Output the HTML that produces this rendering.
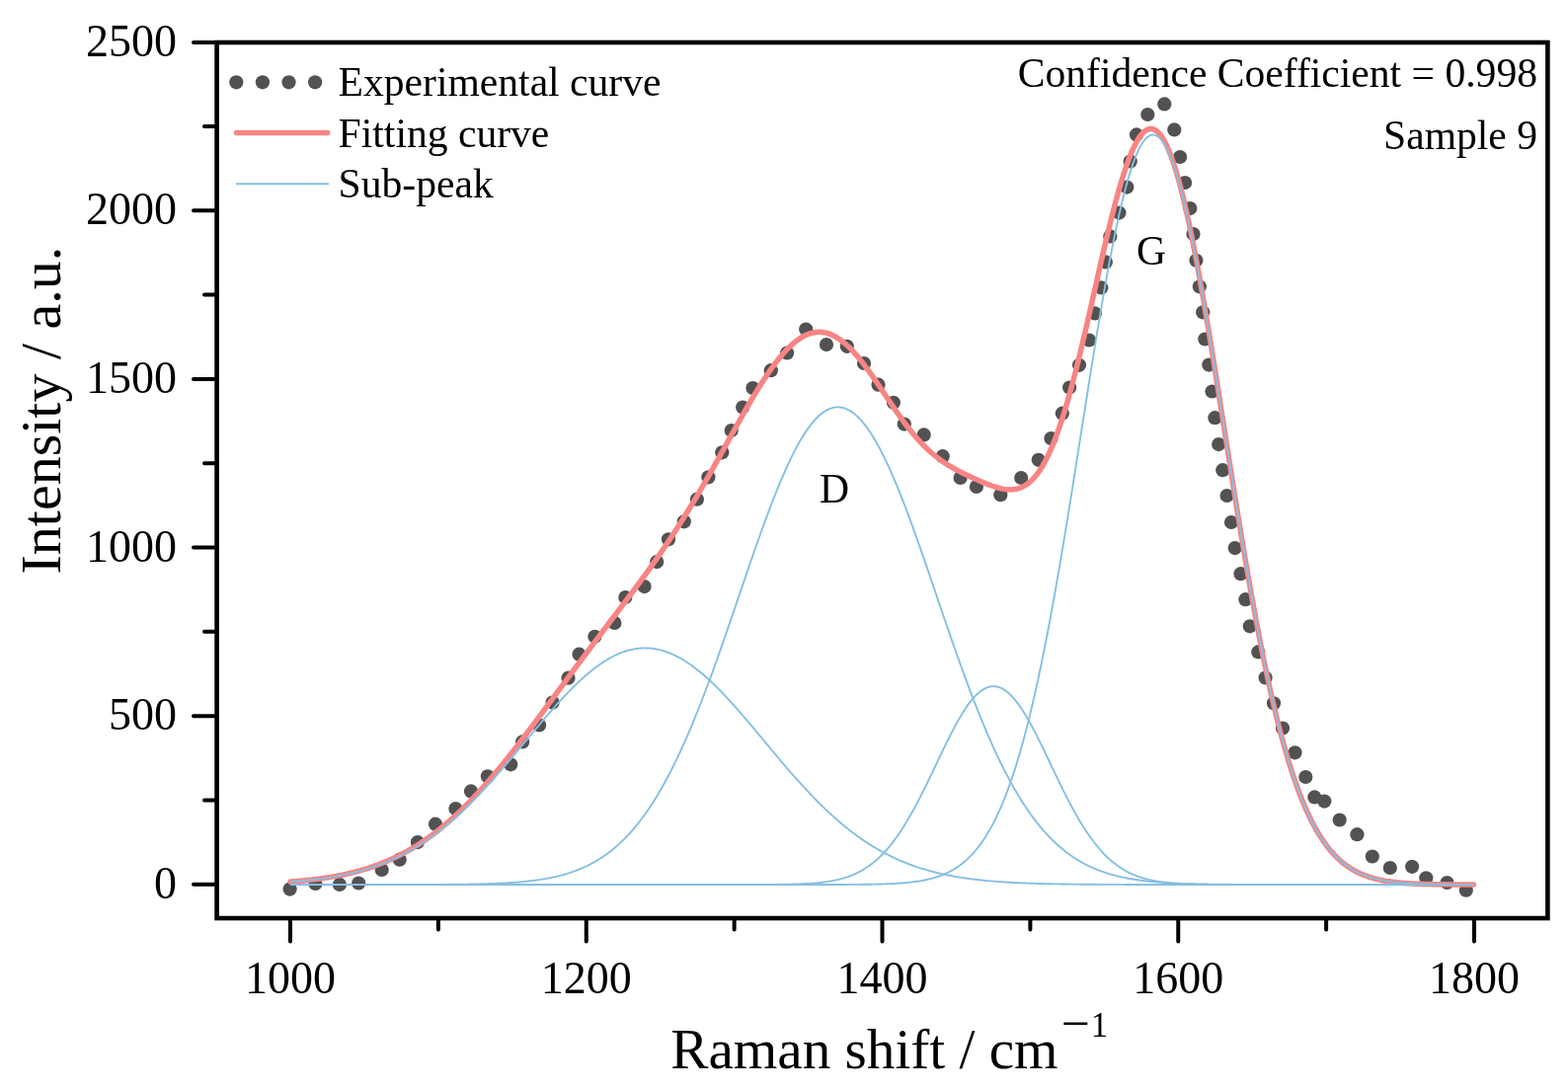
<!DOCTYPE html>
<html><head><meta charset="utf-8"><title>Raman spectrum fit</title>
<style>html,body{margin:0;padding:0;background:#fff;}svg{display:block;}</style>
</head><body>
<svg width="1588" height="1104" viewBox="0 0 1588 1104"><rect width="1588" height="1104" fill="#fff"/><g fill="#525252"><circle cx="293.6" cy="900.6" r="7.1"/><circle cx="319.4" cy="895.0" r="7.1"/><circle cx="343.9" cy="895.9" r="7.1"/><circle cx="363.2" cy="894.5" r="7.1"/><circle cx="386.7" cy="880.9" r="7.1"/><circle cx="404.7" cy="870.7" r="7.1"/><circle cx="422.9" cy="853.1" r="7.1"/><circle cx="441" cy="834.7" r="7.1"/><circle cx="461.4" cy="819.1" r="7.1"/><circle cx="477" cy="801.4" r="7.1"/><circle cx="493.9" cy="786.3" r="7.1"/><circle cx="517.2" cy="774.3" r="7.1"/><circle cx="529.1" cy="751.4" r="7.1"/><circle cx="546.1" cy="734.5" r="7.1"/><circle cx="559.6" cy="711.6" r="7.1"/><circle cx="575.5" cy="686.7" r="7.1"/><circle cx="586.5" cy="662.7" r="7.1"/><circle cx="602.4" cy="644.8" r="7.1"/><circle cx="622.4" cy="630.9" r="7.1"/><circle cx="633.3" cy="605" r="7.1"/><circle cx="652.6" cy="594.1" r="7.1"/><circle cx="665.2" cy="569.1" r="7.1"/><circle cx="677" cy="546.3" r="7.1"/><circle cx="692.8" cy="528.3" r="7.1"/><circle cx="705.9" cy="505.7" r="7.1"/><circle cx="717.4" cy="483.3" r="7.1"/><circle cx="731.3" cy="458.3" r="7.1"/><circle cx="740.7" cy="436.1" r="7.1"/><circle cx="752.2" cy="412.6" r="7.1"/><circle cx="762.4" cy="393" r="7.1"/><circle cx="780.8" cy="375.2" r="7.1"/><circle cx="797.1" cy="357.5" r="7.1"/><circle cx="816.2" cy="333.6" r="7.1"/><circle cx="837" cy="349" r="7.1"/><circle cx="857.8" cy="350.8" r="7.1"/><circle cx="875" cy="368" r="7.1"/><circle cx="889.5" cy="389.7" r="7.1"/><circle cx="904.9" cy="407.8" r="7.1"/><circle cx="915.8" cy="429.6" r="7.1"/><circle cx="935.7" cy="440.4" r="7.1"/><circle cx="954.7" cy="462.2" r="7.1"/><circle cx="972.6" cy="484" r="7.1"/><circle cx="988.9" cy="493" r="7.1"/><circle cx="1013.3" cy="501.2" r="7.1"/><circle cx="1034.2" cy="484" r="7.1"/><circle cx="1051.7" cy="465.8" r="7.1"/><circle cx="1064.4" cy="444.1" r="7.1"/><circle cx="1075.8" cy="418.7" r="7.1"/><circle cx="1083.1" cy="392.5" r="7.1"/><circle cx="1093" cy="369.8" r="7.1"/><circle cx="1103" cy="344.5" r="7.1"/><circle cx="1108.9" cy="317.4" r="7.1"/><circle cx="1115.3" cy="291.4" r="7.1"/><circle cx="1119.8" cy="265.4" r="7.1"/><circle cx="1124.3" cy="239.4" r="7.1"/><circle cx="1133.4" cy="215.6" r="7.1"/><circle cx="1141.3" cy="189.6" r="7.1"/><circle cx="1144.7" cy="163.5" r="7.1"/><circle cx="1151" cy="136.4" r="7.1"/><circle cx="1162.3" cy="116" r="7.1"/><circle cx="1179.3" cy="105.4" r="7.1"/><circle cx="1189.3" cy="131.4" r="7.1"/><circle cx="1195.1" cy="159" r="7.1"/><circle cx="1200.1" cy="185" r="7.1"/><circle cx="1205.3" cy="211.1" r="7.1"/><circle cx="1208.5" cy="237.1" r="7.1"/><circle cx="1211.4" cy="263.8" r="7.1"/><circle cx="1214.8" cy="290.3" r="7.1"/><circle cx="1218.2" cy="316.3" r="7.1"/><circle cx="1220.3" cy="343.5" r="7.1"/><circle cx="1224.3" cy="369.6" r="7.1"/><circle cx="1227.5" cy="396.5" r="7.1"/><circle cx="1230.4" cy="423.2" r="7.1"/><circle cx="1234.2" cy="450.1" r="7.1"/><circle cx="1238.3" cy="476.2" r="7.1"/><circle cx="1242.6" cy="502" r="7.1"/><circle cx="1247" cy="529" r="7.1"/><circle cx="1250.7" cy="555.1" r="7.1"/><circle cx="1256.5" cy="581.2" r="7.1"/><circle cx="1261.4" cy="607.2" r="7.1"/><circle cx="1265.8" cy="634.3" r="7.1"/><circle cx="1274.3" cy="660.4" r="7.1"/><circle cx="1281.6" cy="686.5" r="7.1"/><circle cx="1290" cy="712.3" r="7.1"/><circle cx="1299" cy="737.6" r="7.1"/><circle cx="1311.5" cy="762.3" r="7.1"/><circle cx="1322.3" cy="787" r="7.1"/><circle cx="1331.3" cy="807.4" r="7.1"/><circle cx="1341.3" cy="811.6" r="7.1"/><circle cx="1356.7" cy="830.5" r="7.1"/><circle cx="1374.4" cy="845.2" r="7.1"/><circle cx="1389.8" cy="867.5" r="7.1"/><circle cx="1407.8" cy="879" r="7.1"/><circle cx="1430.1" cy="877.8" r="7.1"/><circle cx="1444.3" cy="889.3" r="7.1"/><circle cx="1465.5" cy="894" r="7.1"/><circle cx="1484.8" cy="901.7" r="7.1"/></g><path d="M294.0,893.04 L295.5,892.93 L297.0,892.81 L298.5,892.69 L300.0,892.57 L301.5,892.44 L303.0,892.31 L304.5,892.18 L306.0,892.04 L307.5,891.90 L309.0,891.75 L310.5,891.59 L312.0,891.44 L313.5,891.27 L315.0,891.11 L316.5,890.93 L318.0,890.75 L319.5,890.57 L321.0,890.38 L322.5,890.19 L324.0,889.99 L325.5,889.78 L327.0,889.57 L328.5,889.35 L330.0,889.12 L331.5,888.89 L333.0,888.65 L334.5,888.40 L336.0,888.15 L337.5,887.89 L339.0,887.62 L340.5,887.35 L342.0,887.07 L343.5,886.78 L345.0,886.48 L346.5,886.17 L348.0,885.86 L349.5,885.54 L351.0,885.21 L352.5,884.87 L354.0,884.52 L355.5,884.16 L357.0,883.79 L358.5,883.41 L360.0,883.03 L361.5,882.63 L363.0,882.22 L364.5,881.81 L366.0,881.38 L367.5,880.94 L369.0,880.50 L370.5,880.04 L372.0,879.57 L373.5,879.09 L375.0,878.59 L376.5,878.09 L378.0,877.58 L379.5,877.05 L381.0,876.51 L382.5,875.96 L384.0,875.39 L385.5,874.81 L387.0,874.23 L388.5,873.62 L390.0,873.01 L391.5,872.38 L393.0,871.73 L394.5,871.08 L396.0,870.41 L397.5,869.72 L399.0,869.03 L400.5,868.31 L402.0,867.59 L403.5,866.85 L405.0,866.09 L406.5,865.32 L408.0,864.53 L409.5,863.73 L411.0,862.92 L412.5,862.08 L414.0,861.24 L415.5,860.37 L417.0,859.50 L418.5,858.60 L420.0,857.69 L421.5,856.76 L423.0,855.82 L424.5,854.86 L426.0,853.88 L427.5,852.89 L429.0,851.88 L430.5,850.86 L432.0,849.81 L433.5,848.75 L435.0,847.68 L436.5,846.58 L438.0,845.47 L439.5,844.35 L441.0,843.20 L442.5,842.04 L444.0,840.86 L445.5,839.67 L447.0,838.45 L448.5,837.22 L450.0,835.97 L451.5,834.71 L453.0,833.43 L454.5,832.13 L456.0,830.81 L457.5,829.48 L459.0,828.13 L460.5,826.76 L462.0,825.38 L463.5,823.98 L465.0,822.56 L466.5,821.12 L468.0,819.67 L469.5,818.20 L471.0,816.72 L472.5,815.22 L474.0,813.70 L475.5,812.17 L477.0,810.62 L478.5,809.06 L480.0,807.48 L481.5,805.88 L483.0,804.27 L484.5,802.65 L486.0,801.01 L487.5,799.35 L489.0,797.68 L490.5,796.00 L492.0,794.30 L493.5,792.59 L495.0,790.86 L496.5,789.13 L498.0,787.37 L499.5,785.61 L501.0,783.83 L502.5,782.04 L504.0,780.24 L505.5,778.43 L507.0,776.60 L508.5,774.76 L510.0,772.92 L511.5,771.06 L513.0,769.19 L514.5,767.31 L516.0,765.42 L517.5,763.52 L519.0,761.62 L520.5,759.70 L522.0,757.78 L523.5,755.84 L525.0,753.90 L526.5,751.95 L528.0,750.00 L529.5,748.04 L531.0,746.07 L532.5,744.09 L534.0,742.11 L535.5,740.12 L537.0,738.13 L538.5,736.13 L540.0,734.13 L541.5,732.13 L543.0,730.12 L544.5,728.10 L546.0,726.08 L547.5,724.06 L549.0,722.04 L550.5,720.02 L552.0,717.99 L553.5,715.96 L555.0,713.93 L556.5,711.89 L558.0,709.86 L559.5,707.83 L561.0,705.79 L562.5,703.76 L564.0,701.72 L565.5,699.69 L567.0,697.65 L568.5,695.62 L570.0,693.58 L571.5,691.55 L573.0,689.52 L574.5,687.49 L576.0,685.46 L577.5,683.44 L579.0,681.41 L580.5,679.39 L582.0,677.37 L583.5,675.35 L585.0,673.33 L586.5,671.32 L588.0,669.31 L589.5,667.30 L591.0,665.29 L592.5,663.28 L594.0,661.28 L595.5,659.28 L597.0,657.28 L598.5,655.29 L600.0,653.29 L601.5,651.30 L603.0,649.31 L604.5,647.32 L606.0,645.34 L607.5,643.36 L609.0,641.37 L610.5,639.39 L612.0,637.41 L613.5,635.43 L615.0,633.46 L616.5,631.48 L618.0,629.50 L619.5,627.52 L621.0,625.55 L622.5,623.57 L624.0,621.59 L625.5,619.61 L627.0,617.63 L628.5,615.65 L630.0,613.67 L631.5,611.68 L633.0,609.69 L634.5,607.70 L636.0,605.70 L637.5,603.70 L639.0,601.70 L640.5,599.69 L642.0,597.68 L643.5,595.66 L645.0,593.64 L646.5,591.61 L648.0,589.57 L649.5,587.52 L651.0,585.47 L652.5,583.41 L654.0,581.35 L655.5,579.27 L657.0,577.19 L658.5,575.09 L660.0,572.99 L661.5,570.87 L663.0,568.75 L664.5,566.61 L666.0,564.47 L667.5,562.31 L669.0,560.14 L670.5,557.95 L672.0,555.76 L673.5,553.55 L675.0,551.33 L676.5,549.09 L678.0,546.84 L679.5,544.58 L681.0,542.30 L682.5,540.00 L684.0,537.70 L685.5,535.38 L687.0,533.04 L688.5,530.69 L690.0,528.32 L691.5,525.93 L693.0,523.54 L694.5,521.12 L696.0,518.69 L697.5,516.25 L699.0,513.79 L700.5,511.32 L702.0,508.83 L703.5,506.32 L705.0,503.81 L706.5,501.27 L708.0,498.73 L709.5,496.17 L711.0,493.60 L712.5,491.01 L714.0,488.41 L715.5,485.80 L717.0,483.18 L718.5,480.55 L720.0,477.90 L721.5,475.25 L723.0,472.59 L724.5,469.92 L726.0,467.24 L727.5,464.56 L729.0,461.87 L730.5,459.17 L732.0,456.47 L733.5,453.77 L735.0,451.07 L736.5,448.36 L738.0,445.65 L739.5,442.95 L741.0,440.24 L742.5,437.54 L744.0,434.85 L745.5,432.16 L747.0,429.47 L748.5,426.80 L750.0,424.13 L751.5,421.48 L753.0,418.83 L754.5,416.21 L756.0,413.59 L757.5,410.99 L759.0,408.42 L760.5,405.86 L762.0,403.32 L763.5,400.80 L765.0,398.31 L766.5,395.84 L768.0,393.41 L769.5,391.00 L771.0,388.62 L772.5,386.27 L774.0,383.96 L775.5,381.68 L777.0,379.45 L778.5,377.25 L780.0,375.09 L781.5,372.97 L783.0,370.90 L784.5,368.87 L786.0,366.89 L787.5,364.96 L789.0,363.08 L790.5,361.25 L792.0,359.47 L793.5,357.75 L795.0,356.09 L796.5,354.48 L798.0,352.93 L799.5,351.45 L801.0,350.03 L802.5,348.67 L804.0,347.37 L805.5,346.14 L807.0,344.98 L808.5,343.89 L810.0,342.87 L811.5,341.92 L813.0,341.04 L814.5,340.23 L816.0,339.50 L817.5,338.84 L819.0,338.25 L820.5,337.74 L822.0,337.31 L823.5,336.96 L825.0,336.68 L826.5,336.48 L828.0,336.35 L829.5,336.31 L831.0,336.34 L832.5,336.46 L834.0,336.65 L835.5,336.91 L837.0,337.26 L838.5,337.68 L840.0,338.19 L841.5,338.76 L843.0,339.42 L844.5,340.15 L846.0,340.95 L847.5,341.83 L849.0,342.77 L850.5,343.79 L852.0,344.88 L853.5,346.04 L855.0,347.27 L856.5,348.56 L858.0,349.92 L859.5,351.34 L861.0,352.82 L862.5,354.36 L864.0,355.96 L865.5,357.61 L867.0,359.32 L868.5,361.08 L870.0,362.88 L871.5,364.73 L873.0,366.63 L874.5,368.56 L876.0,370.54 L877.5,372.55 L879.0,374.60 L880.5,376.68 L882.0,378.78 L883.5,380.91 L885.0,383.07 L886.5,385.24 L888.0,387.43 L889.5,389.64 L891.0,391.86 L892.5,394.08 L894.0,396.32 L895.5,398.55 L897.0,400.79 L898.5,403.03 L900.0,405.26 L901.5,407.48 L903.0,409.69 L904.5,411.89 L906.0,414.08 L907.5,416.25 L909.0,418.39 L910.5,420.52 L912.0,422.62 L913.5,424.70 L915.0,426.75 L916.5,428.77 L918.0,430.76 L919.5,432.71 L921.0,434.63 L922.5,436.52 L924.0,438.37 L925.5,440.17 L927.0,441.95 L928.5,443.68 L930.0,445.37 L931.5,447.02 L933.0,448.63 L934.5,450.19 L936.0,451.72 L937.5,453.20 L939.0,454.64 L940.5,456.05 L942.0,457.41 L943.5,458.73 L945.0,460.01 L946.5,461.25 L948.0,462.46 L949.5,463.63 L951.0,464.76 L952.5,465.86 L954.0,466.92 L955.5,467.96 L957.0,468.96 L958.5,469.94 L960.0,470.88 L961.5,471.81 L963.0,472.70 L964.5,473.58 L966.0,474.43 L967.5,475.26 L969.0,476.08 L970.5,476.88 L972.0,477.66 L973.5,478.43 L975.0,479.18 L976.5,479.92 L978.0,480.65 L979.5,481.38 L981.0,482.09 L982.5,482.79 L984.0,483.49 L985.5,484.17 L987.0,484.85 L988.5,485.53 L990.0,486.19 L991.5,486.85 L993.0,487.50 L994.5,488.13 L996.0,488.76 L997.5,489.38 L999.0,489.98 L1000.5,490.57 L1002.0,491.14 L1003.5,491.70 L1005.0,492.23 L1006.5,492.74 L1008.0,493.22 L1009.5,493.68 L1011.0,494.10 L1012.5,494.49 L1014.0,494.83 L1015.5,495.14 L1017.0,495.40 L1018.5,495.61 L1020.0,495.77 L1021.5,495.87 L1023.0,495.90 L1024.5,495.87 L1026.0,495.77 L1027.5,495.59 L1029.0,495.33 L1030.5,494.98 L1032.0,494.55 L1033.5,494.01 L1035.0,493.38 L1036.5,492.65 L1038.0,491.80 L1039.5,490.84 L1041.0,489.76 L1042.5,488.56 L1044.0,487.24 L1045.5,485.78 L1047.0,484.19 L1048.5,482.46 L1050.0,480.58 L1051.5,478.56 L1053.0,476.39 L1054.5,474.07 L1056.0,471.60 L1057.5,468.97 L1059.0,466.18 L1060.5,463.24 L1062.0,460.13 L1063.5,456.86 L1065.0,453.42 L1066.5,449.83 L1068.0,446.07 L1069.5,442.14 L1071.0,438.06 L1072.5,433.82 L1074.0,429.42 L1075.5,424.86 L1077.0,420.15 L1078.5,415.29 L1080.0,410.28 L1081.5,405.12 L1083.0,399.83 L1084.5,394.41 L1086.0,388.85 L1087.5,383.17 L1089.0,377.37 L1090.5,371.46 L1092.0,365.44 L1093.5,359.32 L1095.0,353.12 L1096.5,346.83 L1098.0,340.46 L1099.5,334.02 L1101.0,327.53 L1102.5,320.99 L1104.0,314.40 L1105.5,307.78 L1107.0,301.15 L1108.5,294.49 L1110.0,287.84 L1111.5,281.19 L1113.0,274.57 L1114.5,267.97 L1116.0,261.41 L1117.5,254.89 L1119.0,248.44 L1120.5,242.06 L1122.0,235.76 L1123.5,229.55 L1125.0,223.45 L1126.5,217.46 L1128.0,211.59 L1129.5,205.85 L1131.0,200.26 L1132.5,194.82 L1134.0,189.54 L1135.5,184.43 L1137.0,179.51 L1138.5,174.78 L1140.0,170.24 L1141.5,165.92 L1143.0,161.81 L1144.5,157.92 L1146.0,154.26 L1147.5,150.84 L1149.0,147.67 L1150.5,144.74 L1152.0,142.08 L1153.5,139.67 L1155.0,137.54 L1156.5,135.67 L1158.0,134.08 L1159.5,132.78 L1161.0,131.76 L1162.5,131.02 L1164.0,130.58 L1165.5,130.43 L1167.0,130.58 L1168.5,131.02 L1170.0,131.76 L1171.5,132.80 L1173.0,134.14 L1174.5,135.78 L1176.0,137.71 L1177.5,139.95 L1179.0,142.48 L1180.5,145.31 L1182.0,148.43 L1183.5,151.84 L1185.0,155.53 L1186.5,159.52 L1188.0,163.78 L1189.5,168.32 L1191.0,173.13 L1192.5,178.21 L1194.0,183.55 L1195.5,189.15 L1197.0,194.99 L1198.5,201.08 L1200.0,207.41 L1201.5,213.97 L1203.0,220.76 L1204.5,227.76 L1206.0,234.97 L1207.5,242.37 L1209.0,249.97 L1210.5,257.76 L1212.0,265.72 L1213.5,273.85 L1215.0,282.13 L1216.5,290.56 L1218.0,299.14 L1219.5,307.84 L1221.0,316.67 L1222.5,325.60 L1224.0,334.64 L1225.5,343.78 L1227.0,353.00 L1228.5,362.29 L1230.0,371.65 L1231.5,381.07 L1233.0,390.53 L1234.5,400.03 L1236.0,409.57 L1237.5,419.12 L1239.0,428.69 L1240.5,438.27 L1242.0,447.84 L1243.5,457.39 L1245.0,466.93 L1246.5,476.44 L1248.0,485.92 L1249.5,495.36 L1251.0,504.74 L1252.5,514.07 L1254.0,523.34 L1255.5,532.54 L1257.0,541.66 L1258.5,550.71 L1260.0,559.67 L1261.5,568.53 L1263.0,577.30 L1264.5,585.97 L1266.0,594.53 L1267.5,602.98 L1269.0,611.32 L1270.5,619.54 L1272.0,627.63 L1273.5,635.60 L1275.0,643.45 L1276.5,651.16 L1278.0,658.74 L1279.5,666.18 L1281.0,673.49 L1282.5,680.65 L1284.0,687.68 L1285.5,694.56 L1287.0,701.30 L1288.5,707.89 L1290.0,714.34 L1291.5,720.65 L1293.0,726.80 L1294.5,732.81 L1296.0,738.68 L1297.5,744.40 L1299.0,749.97 L1300.5,755.40 L1302.0,760.69 L1303.5,765.84 L1305.0,770.84 L1306.5,775.70 L1308.0,780.42 L1309.5,785.01 L1311.0,789.46 L1312.5,793.77 L1314.0,797.95 L1315.5,802.00 L1317.0,805.93 L1318.5,809.72 L1320.0,813.39 L1321.5,816.94 L1323.0,820.37 L1324.5,823.69 L1326.0,826.88 L1327.5,829.97 L1329.0,832.94 L1330.5,835.81 L1332.0,838.56 L1333.5,841.22 L1335.0,843.78 L1336.5,846.24 L1338.0,848.60 L1339.5,850.87 L1341.0,853.05 L1342.5,855.14 L1344.0,857.15 L1345.5,859.08 L1347.0,860.92 L1348.5,862.69 L1350.0,864.38 L1351.5,866.00 L1353.0,867.54 L1354.5,869.02 L1356.0,870.44 L1357.5,871.79 L1359.0,873.07 L1360.5,874.30 L1362.0,875.48 L1363.5,876.59 L1365.0,877.66 L1366.5,878.67 L1368.0,879.64 L1369.5,880.55 L1371.0,881.42 L1372.5,882.25 L1374.0,883.04 L1375.5,883.79 L1377.0,884.50 L1378.5,885.17 L1380.0,885.81 L1381.5,886.41 L1383.0,886.99 L1384.5,887.53 L1386.0,888.04 L1387.5,888.53 L1389.0,888.98 L1390.5,889.42 L1392.0,889.83 L1393.5,890.21 L1395.0,890.58 L1396.5,890.92 L1398.0,891.24 L1399.5,891.55 L1401.0,891.84 L1402.5,892.11 L1404.0,892.36 L1405.5,892.60 L1407.0,892.83 L1408.5,893.04 L1410.0,893.24 L1411.5,893.42 L1413.0,893.60 L1414.5,893.76 L1416.0,893.91 L1417.5,894.06 L1419.0,894.19 L1420.5,894.32 L1422.0,894.44 L1423.5,894.55 L1425.0,894.65 L1426.5,894.75 L1428.0,894.84 L1429.5,894.92 L1431.0,895.00 L1432.5,895.07 L1434.0,895.14 L1435.5,895.20 L1437.0,895.26 L1438.5,895.32 L1440.0,895.37 L1441.5,895.42 L1443.0,895.46 L1444.5,895.50 L1446.0,895.54 L1447.5,895.58 L1449.0,895.61 L1450.5,895.64 L1452.0,895.67 L1453.5,895.69 L1455.0,895.72 L1456.5,895.74 L1458.0,895.76 L1459.5,895.78 L1461.0,895.80 L1462.5,895.81 L1464.0,895.83 L1465.5,895.84 L1467.0,895.86 L1468.5,895.87 L1470.0,895.88 L1471.5,895.89 L1473.0,895.90 L1474.5,895.91 L1476.0,895.91 L1477.5,895.92 L1479.0,895.93 L1480.5,895.93 L1482.0,895.94 L1483.5,895.95 L1485.0,895.95 L1486.5,895.95 L1488.0,895.96 L1489.5,895.96 L1491.0,895.97 L1492.5,895.97" fill="none" stroke="#F88484" stroke-width="5.5" stroke-linejoin="round" stroke-linecap="round"/><path d="M294.0,893.10 L295.5,892.99 L297.0,892.88 L298.5,892.76 L300.0,892.64 L301.5,892.52 L303.0,892.39 L304.5,892.26 L306.0,892.12 L307.5,891.98 L309.0,891.84 L310.5,891.69 L312.0,891.53 L313.5,891.37 L315.0,891.21 L316.5,891.04 L318.0,890.87 L319.5,890.69 L321.0,890.50 L322.5,890.31 L324.0,890.12 L325.5,889.92 L327.0,889.71 L328.5,889.50 L330.0,889.28 L331.5,889.05 L333.0,888.82 L334.5,888.58 L336.0,888.33 L337.5,888.08 L339.0,887.82 L340.5,887.55 L342.0,887.28 L343.5,886.99 L345.0,886.70 L346.5,886.40 L348.0,886.10 L349.5,885.78 L351.0,885.46 L352.5,885.13 L354.0,884.79 L355.5,884.44 L357.0,884.08 L358.5,883.72 L360.0,883.34 L361.5,882.96 L363.0,882.56 L364.5,882.16 L366.0,881.74 L367.5,881.32 L369.0,880.88 L370.5,880.43 L372.0,879.98 L373.5,879.51 L375.0,879.03 L376.5,878.54 L378.0,878.04 L379.5,877.52 L381.0,877.00 L382.5,876.46 L384.0,875.91 L385.5,875.35 L387.0,874.78 L388.5,874.19 L390.0,873.59 L391.5,872.98 L393.0,872.36 L394.5,871.72 L396.0,871.07 L397.5,870.40 L399.0,869.73 L400.5,869.03 L402.0,868.33 L403.5,867.61 L405.0,866.87 L406.5,866.12 L408.0,865.36 L409.5,864.58 L411.0,863.79 L412.5,862.98 L414.0,862.16 L415.5,861.32 L417.0,860.46 L418.5,859.60 L420.0,858.71 L421.5,857.81 L423.0,856.89 L424.5,855.96 L426.0,855.02 L427.5,854.05 L429.0,853.07 L430.5,852.08 L432.0,851.06 L433.5,850.04 L435.0,848.99 L436.5,847.93 L438.0,846.85 L439.5,845.76 L441.0,844.65 L442.5,843.52 L444.0,842.38 L445.5,841.22 L447.0,840.05 L448.5,838.85 L450.0,837.64 L451.5,836.42 L453.0,835.18 L454.5,833.92 L456.0,832.65 L457.5,831.36 L459.0,830.05 L460.5,828.73 L462.0,827.39 L463.5,826.04 L465.0,824.67 L466.5,823.28 L468.0,821.88 L469.5,820.46 L471.0,819.03 L472.5,817.58 L474.0,816.12 L475.5,814.65 L477.0,813.16 L478.5,811.65 L480.0,810.13 L481.5,808.60 L483.0,807.05 L484.5,805.49 L486.0,803.92 L487.5,802.33 L489.0,800.73 L490.5,799.12 L492.0,797.50 L493.5,795.86 L495.0,794.22 L496.5,792.56 L498.0,790.89 L499.5,789.21 L501.0,787.52 L502.5,785.82 L504.0,784.11 L505.5,782.39 L507.0,780.67 L508.5,778.93 L510.0,777.19 L511.5,775.44 L513.0,773.69 L514.5,771.92 L516.0,770.15 L517.5,768.38 L519.0,766.60 L520.5,764.82 L522.0,763.03 L523.5,761.23 L525.0,759.44 L526.5,757.64 L528.0,755.84 L529.5,754.04 L531.0,752.24 L532.5,750.43 L534.0,748.63 L535.5,746.83 L537.0,745.03 L538.5,743.23 L540.0,741.43 L541.5,739.64 L543.0,737.85 L544.5,736.06 L546.0,734.28 L547.5,732.50 L549.0,730.73 L550.5,728.97 L552.0,727.21 L553.5,725.46 L555.0,723.72 L556.5,721.99 L558.0,720.27 L559.5,718.56 L561.0,716.86 L562.5,715.17 L564.0,713.49 L565.5,711.83 L567.0,710.18 L568.5,708.54 L570.0,706.92 L571.5,705.31 L573.0,703.72 L574.5,702.15 L576.0,700.59 L577.5,699.05 L579.0,697.53 L580.5,696.03 L582.0,694.55 L583.5,693.08 L585.0,691.64 L586.5,690.22 L588.0,688.83 L589.5,687.45 L591.0,686.10 L592.5,684.77 L594.0,683.47 L595.5,682.19 L597.0,680.94 L598.5,679.71 L600.0,678.51 L601.5,677.34 L603.0,676.19 L604.5,675.07 L606.0,673.98 L607.5,672.92 L609.0,671.89 L610.5,670.89 L612.0,669.92 L613.5,668.98 L615.0,668.07 L616.5,667.19 L618.0,666.34 L619.5,665.53 L621.0,664.75 L622.5,664.00 L624.0,663.29 L625.5,662.61 L627.0,661.96 L628.5,661.35 L630.0,660.77 L631.5,660.23 L633.0,659.72 L634.5,659.25 L636.0,658.81 L637.5,658.41 L639.0,658.05 L640.5,657.72 L642.0,657.43 L643.5,657.17 L645.0,656.95 L646.5,656.77 L648.0,656.62 L649.5,656.51 L651.0,656.44 L652.5,656.40 L654.0,656.41 L655.5,656.44 L657.0,656.52 L658.5,656.63 L660.0,656.78 L661.5,656.96 L663.0,657.19 L664.5,657.44 L666.0,657.74 L667.5,658.07 L669.0,658.44 L670.5,658.84 L672.0,659.28 L673.5,659.75 L675.0,660.26 L676.5,660.81 L678.0,661.39 L679.5,662.00 L681.0,662.65 L682.5,663.33 L684.0,664.05 L685.5,664.80 L687.0,665.58 L688.5,666.40 L690.0,667.25 L691.5,668.13 L693.0,669.04 L694.5,669.98 L696.0,670.95 L697.5,671.96 L699.0,672.99 L700.5,674.05 L702.0,675.14 L703.5,676.26 L705.0,677.41 L706.5,678.59 L708.0,679.79 L709.5,681.02 L711.0,682.28 L712.5,683.56 L714.0,684.86 L715.5,686.19 L717.0,687.54 L718.5,688.92 L720.0,690.32 L721.5,691.74 L723.0,693.18 L724.5,694.64 L726.0,696.13 L727.5,697.63 L729.0,699.15 L730.5,700.69 L732.0,702.25 L733.5,703.83 L735.0,705.42 L736.5,707.03 L738.0,708.65 L739.5,710.29 L741.0,711.94 L742.5,713.60 L744.0,715.28 L745.5,716.97 L747.0,718.67 L748.5,720.38 L750.0,722.11 L751.5,723.84 L753.0,725.58 L754.5,727.33 L756.0,729.09 L757.5,730.85 L759.0,732.62 L760.5,734.40 L762.0,736.18 L763.5,737.97 L765.0,739.76 L766.5,741.55 L768.0,743.35 L769.5,745.15 L771.0,746.95 L772.5,748.75 L774.0,750.56 L775.5,752.36 L777.0,754.16 L778.5,755.96 L780.0,757.76 L781.5,759.56 L783.0,761.35 L784.5,763.15 L786.0,764.93 L787.5,766.72 L789.0,768.50 L790.5,770.27 L792.0,772.04 L793.5,773.80 L795.0,775.56 L796.5,777.31 L798.0,779.05 L799.5,780.78 L801.0,782.51 L802.5,784.23 L804.0,785.93 L805.5,787.63 L807.0,789.32 L808.5,791.00 L810.0,792.67 L811.5,794.33 L813.0,795.97 L814.5,797.61 L816.0,799.23 L817.5,800.84 L819.0,802.44 L820.5,804.02 L822.0,805.60 L823.5,807.16 L825.0,808.70 L826.5,810.23 L828.0,811.75 L829.5,813.26 L831.0,814.75 L832.5,816.22 L834.0,817.68 L835.5,819.13 L837.0,820.56 L838.5,821.97 L840.0,823.37 L841.5,824.76 L843.0,826.13 L844.5,827.48 L846.0,828.82 L847.5,830.14 L849.0,831.44 L850.5,832.73 L852.0,834.01 L853.5,835.26 L855.0,836.50 L856.5,837.73 L858.0,838.93 L859.5,840.12 L861.0,841.30 L862.5,842.46 L864.0,843.60 L865.5,844.72 L867.0,845.83 L868.5,846.93 L870.0,848.00 L871.5,849.06 L873.0,850.11 L874.5,851.13 L876.0,852.14 L877.5,853.14 L879.0,854.12 L880.5,855.08 L882.0,856.03 L883.5,856.96 L885.0,857.87 L886.5,858.77 L888.0,859.65 L889.5,860.52 L891.0,861.37 L892.5,862.21 L894.0,863.03 L895.5,863.84 L897.0,864.63 L898.5,865.41 L900.0,866.17 L901.5,866.92 L903.0,867.66 L904.5,868.37 L906.0,869.08 L907.5,869.77 L909.0,870.45 L910.5,871.11 L912.0,871.76 L913.5,872.40 L915.0,873.02 L916.5,873.64 L918.0,874.23 L919.5,874.82 L921.0,875.39 L922.5,875.95 L924.0,876.50 L925.5,877.03 L927.0,877.56 L928.5,878.07 L930.0,878.57 L931.5,879.06 L933.0,879.54 L934.5,880.01 L936.0,880.46 L937.5,880.91 L939.0,881.34 L940.5,881.77 L942.0,882.18 L943.5,882.59 L945.0,882.98 L946.5,883.37 L948.0,883.74 L949.5,884.11 L951.0,884.47 L952.5,884.81 L954.0,885.15 L955.5,885.48 L957.0,885.81 L958.5,886.12 L960.0,886.42 L961.5,886.72 L963.0,887.01 L964.5,887.29 L966.0,887.57 L967.5,887.84 L969.0,888.09 L970.5,888.35 L972.0,888.59 L973.5,888.83 L975.0,889.06 L976.5,889.29 L978.0,889.51 L979.5,889.72 L981.0,889.93 L982.5,890.13 L984.0,890.33 L985.5,890.52 L987.0,890.70 L988.5,890.88 L990.0,891.05 L991.5,891.22 L993.0,891.39 L994.5,891.54 L996.0,891.70 L997.5,891.85 L999.0,891.99 L1000.5,892.13 L1002.0,892.27 L1003.5,892.40 L1005.0,892.53 L1006.5,892.65 L1008.0,892.77 L1009.5,892.88 L1011.0,893.00 L1012.5,893.11 L1014.0,893.21 L1015.5,893.31 L1017.0,893.41 L1018.5,893.51 L1020.0,893.60 L1021.5,893.69 L1023.0,893.77 L1024.5,893.86 L1026.0,893.94 L1027.5,894.01 L1029.0,894.09 L1030.5,894.16 L1032.0,894.23 L1033.5,894.30 L1035.0,894.36 L1036.5,894.43 L1038.0,894.49 L1039.5,894.55 L1041.0,894.60 L1042.5,894.66 L1044.0,894.71 L1045.5,894.76 L1047.0,894.81 L1048.5,894.86 L1050.0,894.90 L1051.5,894.95 L1053.0,894.99 L1054.5,895.03 L1056.0,895.07 L1057.5,895.11 L1059.0,895.14 L1060.5,895.18 L1062.0,895.21 L1063.5,895.24 L1065.0,895.28 L1066.5,895.31 L1068.0,895.33 L1069.5,895.36 L1071.0,895.39 L1072.5,895.41 L1074.0,895.44 L1075.5,895.46 L1077.0,895.49 L1078.5,895.51 L1080.0,895.53 L1081.5,895.55 L1083.0,895.57 L1084.5,895.59 L1086.0,895.60 L1087.5,895.62 L1089.0,895.64 L1090.5,895.65 L1092.0,895.67 L1093.5,895.68 L1095.0,895.70 L1096.5,895.71 L1098.0,895.72 L1099.5,895.74 L1101.0,895.75 L1102.5,895.76 L1104.0,895.77 L1105.5,895.78 L1107.0,895.79 L1108.5,895.80 L1110.0,895.81 L1111.5,895.82 L1113.0,895.83 L1114.5,895.83 L1116.0,895.84 L1117.5,895.85 L1119.0,895.86 L1120.5,895.86 L1122.0,895.87 L1123.5,895.88 L1125.0,895.88 L1126.5,895.89 L1128.0,895.89 L1129.5,895.90 L1131.0,895.90 L1132.5,895.91 L1134.0,895.91 L1135.5,895.92 L1137.0,895.92 L1138.5,895.92 L1140.0,895.93 L1141.5,895.93 L1143.0,895.93 L1144.5,895.94 L1146.0,895.94 L1147.5,895.94 L1149.0,895.95 L1150.5,895.95 L1152.0,895.95 L1153.5,895.95 L1155.0,895.96 L1156.5,895.96 L1158.0,895.96 L1159.5,895.96 L1161.0,895.96 L1162.5,895.97 L1164.0,895.97 L1165.5,895.97 L1167.0,895.97 L1168.5,895.97 L1170.0,895.97 L1171.5,895.98 L1173.0,895.98 L1174.5,895.98 L1176.0,895.98 L1177.5,895.98 L1179.0,895.98 L1180.5,895.98 L1182.0,895.98 L1183.5,895.98 L1185.0,895.98 L1186.5,895.99 L1188.0,895.99 L1189.5,895.99 L1191.0,895.99 L1192.5,895.99 L1194.0,895.99 L1195.5,895.99 L1197.0,895.99 L1198.5,895.99 L1200.0,895.99 L1201.5,895.99 L1203.0,895.99 L1204.5,895.99 L1206.0,895.99 L1207.5,895.99 L1209.0,895.99 L1210.5,895.99 L1212.0,895.99 L1213.5,895.99 L1215.0,896.00 L1216.5,896.00 L1218.0,896.00 L1219.5,896.00 L1221.0,896.00 L1222.5,896.00 L1224.0,896.00 L1225.5,896.00 L1227.0,896.00 L1228.5,896.00 L1230.0,896.00 L1231.5,896.00 L1233.0,896.00 L1234.5,896.00 L1236.0,896.00 L1237.5,896.00 L1239.0,896.00 L1240.5,896.00 L1242.0,896.00 L1243.5,896.00 L1245.0,896.00 L1246.5,896.00 L1248.0,896.00 L1249.5,896.00 L1251.0,896.00 L1252.5,896.00 L1254.0,896.00 L1255.5,896.00 L1257.0,896.00 L1258.5,896.00 L1260.0,896.00 L1261.5,896.00 L1263.0,896.00 L1264.5,896.00 L1266.0,896.00 L1267.5,896.00 L1269.0,896.00 L1270.5,896.00 L1272.0,896.00 L1273.5,896.00 L1275.0,896.00 L1276.5,896.00 L1278.0,896.00 L1279.5,896.00 L1281.0,896.00 L1282.5,896.00 L1284.0,896.00 L1285.5,896.00 L1287.0,896.00 L1288.5,896.00 L1290.0,896.00 L1291.5,896.00 L1293.0,896.00 L1294.5,896.00 L1296.0,896.00 L1297.5,896.00 L1299.0,896.00 L1300.5,896.00 L1302.0,896.00 L1303.5,896.00 L1305.0,896.00 L1306.5,896.00 L1308.0,896.00 L1309.5,896.00 L1311.0,896.00 L1312.5,896.00 L1314.0,896.00 L1315.5,896.00 L1317.0,896.00 L1318.5,896.00 L1320.0,896.00 L1321.5,896.00 L1323.0,896.00 L1324.5,896.00 L1326.0,896.00 L1327.5,896.00 L1329.0,896.00 L1330.5,896.00 L1332.0,896.00 L1333.5,896.00 L1335.0,896.00 L1336.5,896.00 L1338.0,896.00 L1339.5,896.00 L1341.0,896.00 L1342.5,896.00 L1344.0,896.00 L1345.5,896.00 L1347.0,896.00 L1348.5,896.00 L1350.0,896.00 L1351.5,896.00 L1353.0,896.00 L1354.5,896.00 L1356.0,896.00 L1357.5,896.00 L1359.0,896.00 L1360.5,896.00 L1362.0,896.00 L1363.5,896.00 L1365.0,896.00 L1366.5,896.00 L1368.0,896.00 L1369.5,896.00 L1371.0,896.00 L1372.5,896.00 L1374.0,896.00 L1375.5,896.00 L1377.0,896.00 L1378.5,896.00 L1380.0,896.00 L1381.5,896.00 L1383.0,896.00 L1384.5,896.00 L1386.0,896.00 L1387.5,896.00 L1389.0,896.00 L1390.5,896.00 L1392.0,896.00 L1393.5,896.00 L1395.0,896.00 L1396.5,896.00 L1398.0,896.00 L1399.5,896.00 L1401.0,896.00 L1402.5,896.00 L1404.0,896.00 L1405.5,896.00 L1407.0,896.00 L1408.5,896.00 L1410.0,896.00 L1411.5,896.00 L1413.0,896.00 L1414.5,896.00 L1416.0,896.00 L1417.5,896.00 L1419.0,896.00 L1420.5,896.00 L1422.0,896.00 L1423.5,896.00 L1425.0,896.00 L1426.5,896.00 L1428.0,896.00 L1429.5,896.00 L1431.0,896.00 L1432.5,896.00 L1434.0,896.00 L1435.5,896.00 L1437.0,896.00 L1438.5,896.00 L1440.0,896.00 L1441.5,896.00 L1443.0,896.00 L1444.5,896.00 L1446.0,896.00 L1447.5,896.00 L1449.0,896.00 L1450.5,896.00 L1452.0,896.00 L1453.5,896.00 L1455.0,896.00 L1456.5,896.00 L1458.0,896.00 L1459.5,896.00 L1461.0,896.00 L1462.5,896.00 L1464.0,896.00 L1465.5,896.00 L1467.0,896.00 L1468.5,896.00 L1470.0,896.00 L1471.5,896.00 L1473.0,896.00 L1474.5,896.00 L1476.0,896.00 L1477.5,896.00 L1479.0,896.00 L1480.5,896.00 L1482.0,896.00 L1483.5,896.00 L1485.0,896.00 L1486.5,896.00 L1488.0,896.00 L1489.5,896.00 L1491.0,896.00 L1492.5,896.00" fill="none" stroke="#86BFE2" stroke-width="1.9" stroke-linejoin="round"/><path d="M294.0,896.00 L295.5,896.00 L297.0,896.00 L298.5,896.00 L300.0,896.00 L301.5,896.00 L303.0,896.00 L304.5,896.00 L306.0,896.00 L307.5,896.00 L309.0,896.00 L310.5,896.00 L312.0,896.00 L313.5,896.00 L315.0,896.00 L316.5,896.00 L318.0,896.00 L319.5,896.00 L321.0,896.00 L322.5,896.00 L324.0,896.00 L325.5,896.00 L327.0,896.00 L328.5,896.00 L330.0,896.00 L331.5,896.00 L333.0,896.00 L334.5,896.00 L336.0,896.00 L337.5,896.00 L339.0,896.00 L340.5,896.00 L342.0,896.00 L343.5,896.00 L345.0,896.00 L346.5,896.00 L348.0,896.00 L349.5,896.00 L351.0,896.00 L352.5,896.00 L354.0,896.00 L355.5,896.00 L357.0,896.00 L358.5,896.00 L360.0,896.00 L361.5,896.00 L363.0,896.00 L364.5,896.00 L366.0,896.00 L367.5,896.00 L369.0,896.00 L370.5,895.99 L372.0,895.99 L373.5,895.99 L375.0,895.99 L376.5,895.99 L378.0,895.99 L379.5,895.99 L381.0,895.99 L382.5,895.99 L384.0,895.99 L385.5,895.99 L387.0,895.99 L388.5,895.99 L390.0,895.99 L391.5,895.99 L393.0,895.99 L394.5,895.98 L396.0,895.98 L397.5,895.98 L399.0,895.98 L400.5,895.98 L402.0,895.98 L403.5,895.98 L405.0,895.98 L406.5,895.97 L408.0,895.97 L409.5,895.97 L411.0,895.97 L412.5,895.97 L414.0,895.96 L415.5,895.96 L417.0,895.96 L418.5,895.95 L420.0,895.95 L421.5,895.95 L423.0,895.95 L424.5,895.94 L426.0,895.94 L427.5,895.93 L429.0,895.93 L430.5,895.92 L432.0,895.92 L433.5,895.91 L435.0,895.91 L436.5,895.90 L438.0,895.90 L439.5,895.89 L441.0,895.88 L442.5,895.88 L444.0,895.87 L445.5,895.86 L447.0,895.85 L448.5,895.84 L450.0,895.83 L451.5,895.82 L453.0,895.81 L454.5,895.80 L456.0,895.79 L457.5,895.78 L459.0,895.76 L460.5,895.75 L462.0,895.73 L463.5,895.72 L465.0,895.70 L466.5,895.68 L468.0,895.66 L469.5,895.64 L471.0,895.62 L472.5,895.60 L474.0,895.58 L475.5,895.55 L477.0,895.53 L478.5,895.50 L480.0,895.47 L481.5,895.44 L483.0,895.41 L484.5,895.38 L486.0,895.34 L487.5,895.30 L489.0,895.26 L490.5,895.22 L492.0,895.18 L493.5,895.14 L495.0,895.09 L496.5,895.04 L498.0,894.99 L499.5,894.93 L501.0,894.87 L502.5,894.81 L504.0,894.75 L505.5,894.68 L507.0,894.61 L508.5,894.54 L510.0,894.46 L511.5,894.38 L513.0,894.30 L514.5,894.21 L516.0,894.12 L517.5,894.02 L519.0,893.92 L520.5,893.82 L522.0,893.71 L523.5,893.59 L525.0,893.47 L526.5,893.35 L528.0,893.21 L529.5,893.08 L531.0,892.93 L532.5,892.78 L534.0,892.63 L535.5,892.46 L537.0,892.29 L538.5,892.12 L540.0,891.93 L541.5,891.74 L543.0,891.54 L544.5,891.33 L546.0,891.11 L547.5,890.88 L549.0,890.64 L550.5,890.40 L552.0,890.14 L553.5,889.87 L555.0,889.60 L556.5,889.31 L558.0,889.01 L559.5,888.70 L561.0,888.37 L562.5,888.04 L564.0,887.69 L565.5,887.32 L567.0,886.95 L568.5,886.55 L570.0,886.15 L571.5,885.73 L573.0,885.29 L574.5,884.84 L576.0,884.37 L577.5,883.88 L579.0,883.38 L580.5,882.86 L582.0,882.32 L583.5,881.76 L585.0,881.18 L586.5,880.59 L588.0,879.97 L589.5,879.33 L591.0,878.67 L592.5,877.98 L594.0,877.28 L595.5,876.55 L597.0,875.79 L598.5,875.02 L600.0,874.21 L601.5,873.39 L603.0,872.53 L604.5,871.65 L606.0,870.74 L607.5,869.81 L609.0,868.84 L610.5,867.85 L612.0,866.82 L613.5,865.77 L615.0,864.68 L616.5,863.56 L618.0,862.41 L619.5,861.23 L621.0,860.02 L622.5,858.77 L624.0,857.48 L625.5,856.16 L627.0,854.81 L628.5,853.41 L630.0,851.98 L631.5,850.52 L633.0,849.01 L634.5,847.47 L636.0,845.88 L637.5,844.26 L639.0,842.59 L640.5,840.89 L642.0,839.14 L643.5,837.35 L645.0,835.52 L646.5,833.64 L648.0,831.72 L649.5,829.76 L651.0,827.75 L652.5,825.70 L654.0,823.60 L655.5,821.46 L657.0,819.27 L658.5,817.03 L660.0,814.75 L661.5,812.42 L663.0,810.04 L664.5,807.62 L666.0,805.15 L667.5,802.62 L669.0,800.05 L670.5,797.44 L672.0,794.77 L673.5,792.05 L675.0,789.29 L676.5,786.48 L678.0,783.62 L679.5,780.71 L681.0,777.75 L682.5,774.74 L684.0,771.69 L685.5,768.58 L687.0,765.43 L688.5,762.23 L690.0,758.98 L691.5,755.69 L693.0,752.35 L694.5,748.96 L696.0,745.53 L697.5,742.05 L699.0,738.53 L700.5,734.96 L702.0,731.35 L703.5,727.69 L705.0,724.00 L706.5,720.26 L708.0,716.48 L709.5,712.66 L711.0,708.80 L712.5,704.91 L714.0,700.98 L715.5,697.01 L717.0,693.01 L718.5,688.97 L720.0,684.90 L721.5,680.80 L723.0,676.67 L724.5,672.51 L726.0,668.32 L727.5,664.11 L729.0,659.87 L730.5,655.61 L732.0,651.33 L733.5,647.02 L735.0,642.70 L736.5,638.37 L738.0,634.01 L739.5,629.65 L741.0,625.27 L742.5,620.88 L744.0,616.49 L745.5,612.08 L747.0,607.68 L748.5,603.27 L750.0,598.86 L751.5,594.45 L753.0,590.05 L754.5,585.65 L756.0,581.27 L757.5,576.89 L759.0,572.52 L760.5,568.17 L762.0,563.83 L763.5,559.51 L765.0,555.22 L766.5,550.94 L768.0,546.69 L769.5,542.47 L771.0,538.28 L772.5,534.12 L774.0,530.00 L775.5,525.91 L777.0,521.86 L778.5,517.86 L780.0,513.89 L781.5,509.97 L783.0,506.10 L784.5,502.28 L786.0,498.51 L787.5,494.80 L789.0,491.14 L790.5,487.54 L792.0,484.01 L793.5,480.53 L795.0,477.13 L796.5,473.78 L798.0,470.51 L799.5,467.31 L801.0,464.19 L802.5,461.14 L804.0,458.16 L805.5,455.27 L807.0,452.45 L808.5,449.72 L810.0,447.08 L811.5,444.52 L813.0,442.05 L814.5,439.67 L816.0,437.37 L817.5,435.18 L819.0,433.07 L820.5,431.06 L822.0,429.15 L823.5,427.34 L825.0,425.62 L826.5,424.01 L828.0,422.50 L829.5,421.09 L831.0,419.78 L832.5,418.58 L834.0,417.48 L835.5,416.49 L837.0,415.60 L838.5,414.82 L840.0,414.15 L841.5,413.59 L843.0,413.13 L844.5,412.79 L846.0,412.55 L847.5,412.42 L849.0,412.41 L850.5,412.50 L852.0,412.70 L853.5,413.01 L855.0,413.42 L856.5,413.95 L858.0,414.59 L859.5,415.33 L861.0,416.18 L862.5,417.13 L864.0,418.20 L865.5,419.37 L867.0,420.64 L868.5,422.01 L870.0,423.49 L871.5,425.07 L873.0,426.75 L874.5,428.54 L876.0,430.42 L877.5,432.39 L879.0,434.46 L880.5,436.63 L882.0,438.89 L883.5,441.24 L885.0,443.69 L886.5,446.22 L888.0,448.83 L889.5,451.54 L891.0,454.32 L892.5,457.19 L894.0,460.14 L895.5,463.16 L897.0,466.26 L898.5,469.44 L900.0,472.69 L901.5,476.00 L903.0,479.39 L904.5,482.84 L906.0,486.36 L907.5,489.94 L909.0,493.57 L910.5,497.27 L912.0,501.02 L913.5,504.82 L915.0,508.68 L916.5,512.58 L918.0,516.53 L919.5,520.52 L921.0,524.56 L922.5,528.63 L924.0,532.75 L925.5,536.89 L927.0,541.07 L928.5,545.28 L930.0,549.52 L931.5,553.79 L933.0,558.08 L934.5,562.39 L936.0,566.72 L937.5,571.07 L939.0,575.43 L940.5,579.80 L942.0,584.19 L943.5,588.59 L945.0,592.99 L946.5,597.39 L948.0,601.80 L949.5,606.21 L951.0,610.62 L952.5,615.02 L954.0,619.42 L955.5,623.81 L957.0,628.19 L958.5,632.56 L960.0,636.92 L961.5,641.26 L963.0,645.59 L964.5,649.89 L966.0,654.18 L967.5,658.45 L969.0,662.70 L970.5,666.92 L972.0,671.12 L973.5,675.28 L975.0,679.43 L976.5,683.54 L978.0,687.62 L979.5,691.66 L981.0,695.68 L982.5,699.66 L984.0,703.60 L985.5,707.51 L987.0,711.38 L988.5,715.21 L990.0,719.00 L991.5,722.76 L993.0,726.47 L994.5,730.13 L996.0,733.76 L997.5,737.34 L999.0,740.88 L1000.5,744.37 L1002.0,747.82 L1003.5,751.22 L1005.0,754.58 L1006.5,757.89 L1008.0,761.15 L1009.5,764.37 L1011.0,767.54 L1012.5,770.66 L1014.0,773.73 L1015.5,776.75 L1017.0,779.73 L1018.5,782.65 L1020.0,785.53 L1021.5,788.36 L1023.0,791.14 L1024.5,793.87 L1026.0,796.55 L1027.5,799.19 L1029.0,801.77 L1030.5,804.31 L1032.0,806.80 L1033.5,809.24 L1035.0,811.63 L1036.5,813.98 L1038.0,816.28 L1039.5,818.53 L1041.0,820.74 L1042.5,822.89 L1044.0,825.01 L1045.5,827.07 L1047.0,829.10 L1048.5,831.07 L1050.0,833.01 L1051.5,834.90 L1053.0,836.74 L1054.5,838.55 L1056.0,840.31 L1057.5,842.03 L1059.0,843.71 L1060.5,845.34 L1062.0,846.94 L1063.5,848.50 L1065.0,850.02 L1066.5,851.50 L1068.0,852.94 L1069.5,854.35 L1071.0,855.71 L1072.5,857.05 L1074.0,858.34 L1075.5,859.60 L1077.0,860.83 L1078.5,862.02 L1080.0,863.18 L1081.5,864.31 L1083.0,865.41 L1084.5,866.47 L1086.0,867.51 L1087.5,868.51 L1089.0,869.49 L1090.5,870.43 L1092.0,871.35 L1093.5,872.24 L1095.0,873.10 L1096.5,873.94 L1098.0,874.75 L1099.5,875.54 L1101.0,876.30 L1102.5,877.04 L1104.0,877.75 L1105.5,878.44 L1107.0,879.11 L1108.5,879.76 L1110.0,880.38 L1111.5,880.99 L1113.0,881.57 L1114.5,882.14 L1116.0,882.68 L1117.5,883.21 L1119.0,883.72 L1120.5,884.21 L1122.0,884.68 L1123.5,885.14 L1125.0,885.58 L1126.5,886.01 L1128.0,886.42 L1129.5,886.82 L1131.0,887.20 L1132.5,887.57 L1134.0,887.92 L1135.5,888.26 L1137.0,888.59 L1138.5,888.91 L1140.0,889.21 L1141.5,889.50 L1143.0,889.78 L1144.5,890.05 L1146.0,890.31 L1147.5,890.56 L1149.0,890.80 L1150.5,891.03 L1152.0,891.25 L1153.5,891.47 L1155.0,891.67 L1156.5,891.87 L1158.0,892.05 L1159.5,892.23 L1161.0,892.41 L1162.5,892.57 L1164.0,892.73 L1165.5,892.88 L1167.0,893.03 L1168.5,893.17 L1170.0,893.30 L1171.5,893.43 L1173.0,893.55 L1174.5,893.67 L1176.0,893.78 L1177.5,893.89 L1179.0,893.99 L1180.5,894.09 L1182.0,894.18 L1183.5,894.27 L1185.0,894.36 L1186.5,894.44 L1188.0,894.52 L1189.5,894.59 L1191.0,894.66 L1192.5,894.73 L1194.0,894.79 L1195.5,894.85 L1197.0,894.91 L1198.5,894.97 L1200.0,895.02 L1201.5,895.07 L1203.0,895.12 L1204.5,895.17 L1206.0,895.21 L1207.5,895.25 L1209.0,895.29 L1210.5,895.33 L1212.0,895.36 L1213.5,895.40 L1215.0,895.43 L1216.5,895.46 L1218.0,895.49 L1219.5,895.52 L1221.0,895.54 L1222.5,895.57 L1224.0,895.59 L1225.5,895.61 L1227.0,895.64 L1228.5,895.66 L1230.0,895.68 L1231.5,895.69 L1233.0,895.71 L1234.5,895.73 L1236.0,895.74 L1237.5,895.76 L1239.0,895.77 L1240.5,895.78 L1242.0,895.80 L1243.5,895.81 L1245.0,895.82 L1246.5,895.83 L1248.0,895.84 L1249.5,895.85 L1251.0,895.86 L1252.5,895.87 L1254.0,895.87 L1255.5,895.88 L1257.0,895.89 L1258.5,895.90 L1260.0,895.90 L1261.5,895.91 L1263.0,895.91 L1264.5,895.92 L1266.0,895.92 L1267.5,895.93 L1269.0,895.93 L1270.5,895.94 L1272.0,895.94 L1273.5,895.94 L1275.0,895.95 L1276.5,895.95 L1278.0,895.95 L1279.5,895.96 L1281.0,895.96 L1282.5,895.96 L1284.0,895.96 L1285.5,895.97 L1287.0,895.97 L1288.5,895.97 L1290.0,895.97 L1291.5,895.97 L1293.0,895.98 L1294.5,895.98 L1296.0,895.98 L1297.5,895.98 L1299.0,895.98 L1300.5,895.98 L1302.0,895.98 L1303.5,895.99 L1305.0,895.99 L1306.5,895.99 L1308.0,895.99 L1309.5,895.99 L1311.0,895.99 L1312.5,895.99 L1314.0,895.99 L1315.5,895.99 L1317.0,895.99 L1318.5,895.99 L1320.0,895.99 L1321.5,895.99 L1323.0,895.99 L1324.5,895.99 L1326.0,895.99 L1327.5,896.00 L1329.0,896.00 L1330.5,896.00 L1332.0,896.00 L1333.5,896.00 L1335.0,896.00 L1336.5,896.00 L1338.0,896.00 L1339.5,896.00 L1341.0,896.00 L1342.5,896.00 L1344.0,896.00 L1345.5,896.00 L1347.0,896.00 L1348.5,896.00 L1350.0,896.00 L1351.5,896.00 L1353.0,896.00 L1354.5,896.00 L1356.0,896.00 L1357.5,896.00 L1359.0,896.00 L1360.5,896.00 L1362.0,896.00 L1363.5,896.00 L1365.0,896.00 L1366.5,896.00 L1368.0,896.00 L1369.5,896.00 L1371.0,896.00 L1372.5,896.00 L1374.0,896.00 L1375.5,896.00 L1377.0,896.00 L1378.5,896.00 L1380.0,896.00 L1381.5,896.00 L1383.0,896.00 L1384.5,896.00 L1386.0,896.00 L1387.5,896.00 L1389.0,896.00 L1390.5,896.00 L1392.0,896.00 L1393.5,896.00 L1395.0,896.00 L1396.5,896.00 L1398.0,896.00 L1399.5,896.00 L1401.0,896.00 L1402.5,896.00 L1404.0,896.00 L1405.5,896.00 L1407.0,896.00 L1408.5,896.00 L1410.0,896.00 L1411.5,896.00 L1413.0,896.00 L1414.5,896.00 L1416.0,896.00 L1417.5,896.00 L1419.0,896.00 L1420.5,896.00 L1422.0,896.00 L1423.5,896.00 L1425.0,896.00 L1426.5,896.00 L1428.0,896.00 L1429.5,896.00 L1431.0,896.00 L1432.5,896.00 L1434.0,896.00 L1435.5,896.00 L1437.0,896.00 L1438.5,896.00 L1440.0,896.00 L1441.5,896.00 L1443.0,896.00 L1444.5,896.00 L1446.0,896.00 L1447.5,896.00 L1449.0,896.00 L1450.5,896.00 L1452.0,896.00 L1453.5,896.00 L1455.0,896.00 L1456.5,896.00 L1458.0,896.00 L1459.5,896.00 L1461.0,896.00 L1462.5,896.00 L1464.0,896.00 L1465.5,896.00 L1467.0,896.00 L1468.5,896.00 L1470.0,896.00 L1471.5,896.00 L1473.0,896.00 L1474.5,896.00 L1476.0,896.00 L1477.5,896.00 L1479.0,896.00 L1480.5,896.00 L1482.0,896.00 L1483.5,896.00 L1485.0,896.00 L1486.5,896.00 L1488.0,896.00 L1489.5,896.00 L1491.0,896.00 L1492.5,896.00" fill="none" stroke="#86BFE2" stroke-width="1.9" stroke-linejoin="round"/><path d="M294.0,896.00 L295.5,896.00 L297.0,896.00 L298.5,896.00 L300.0,896.00 L301.5,896.00 L303.0,896.00 L304.5,896.00 L306.0,896.00 L307.5,896.00 L309.0,896.00 L310.5,896.00 L312.0,896.00 L313.5,896.00 L315.0,896.00 L316.5,896.00 L318.0,896.00 L319.5,896.00 L321.0,896.00 L322.5,896.00 L324.0,896.00 L325.5,896.00 L327.0,896.00 L328.5,896.00 L330.0,896.00 L331.5,896.00 L333.0,896.00 L334.5,896.00 L336.0,896.00 L337.5,896.00 L339.0,896.00 L340.5,896.00 L342.0,896.00 L343.5,896.00 L345.0,896.00 L346.5,896.00 L348.0,896.00 L349.5,896.00 L351.0,896.00 L352.5,896.00 L354.0,896.00 L355.5,896.00 L357.0,896.00 L358.5,896.00 L360.0,896.00 L361.5,896.00 L363.0,896.00 L364.5,896.00 L366.0,896.00 L367.5,896.00 L369.0,896.00 L370.5,896.00 L372.0,896.00 L373.5,896.00 L375.0,896.00 L376.5,896.00 L378.0,896.00 L379.5,896.00 L381.0,896.00 L382.5,896.00 L384.0,896.00 L385.5,896.00 L387.0,896.00 L388.5,896.00 L390.0,896.00 L391.5,896.00 L393.0,896.00 L394.5,896.00 L396.0,896.00 L397.5,896.00 L399.0,896.00 L400.5,896.00 L402.0,896.00 L403.5,896.00 L405.0,896.00 L406.5,896.00 L408.0,896.00 L409.5,896.00 L411.0,896.00 L412.5,896.00 L414.0,896.00 L415.5,896.00 L417.0,896.00 L418.5,896.00 L420.0,896.00 L421.5,896.00 L423.0,896.00 L424.5,896.00 L426.0,896.00 L427.5,896.00 L429.0,896.00 L430.5,896.00 L432.0,896.00 L433.5,896.00 L435.0,896.00 L436.5,896.00 L438.0,896.00 L439.5,896.00 L441.0,896.00 L442.5,896.00 L444.0,896.00 L445.5,896.00 L447.0,896.00 L448.5,896.00 L450.0,896.00 L451.5,896.00 L453.0,896.00 L454.5,896.00 L456.0,896.00 L457.5,896.00 L459.0,896.00 L460.5,896.00 L462.0,896.00 L463.5,896.00 L465.0,896.00 L466.5,896.00 L468.0,896.00 L469.5,896.00 L471.0,896.00 L472.5,896.00 L474.0,896.00 L475.5,896.00 L477.0,896.00 L478.5,896.00 L480.0,896.00 L481.5,896.00 L483.0,896.00 L484.5,896.00 L486.0,896.00 L487.5,896.00 L489.0,896.00 L490.5,896.00 L492.0,896.00 L493.5,896.00 L495.0,896.00 L496.5,896.00 L498.0,896.00 L499.5,896.00 L501.0,896.00 L502.5,896.00 L504.0,896.00 L505.5,896.00 L507.0,896.00 L508.5,896.00 L510.0,896.00 L511.5,896.00 L513.0,896.00 L514.5,896.00 L516.0,896.00 L517.5,896.00 L519.0,896.00 L520.5,896.00 L522.0,896.00 L523.5,896.00 L525.0,896.00 L526.5,896.00 L528.0,896.00 L529.5,896.00 L531.0,896.00 L532.5,896.00 L534.0,896.00 L535.5,896.00 L537.0,896.00 L538.5,896.00 L540.0,896.00 L541.5,896.00 L543.0,896.00 L544.5,896.00 L546.0,896.00 L547.5,896.00 L549.0,896.00 L550.5,896.00 L552.0,896.00 L553.5,896.00 L555.0,896.00 L556.5,896.00 L558.0,896.00 L559.5,896.00 L561.0,896.00 L562.5,896.00 L564.0,896.00 L565.5,896.00 L567.0,896.00 L568.5,896.00 L570.0,896.00 L571.5,896.00 L573.0,896.00 L574.5,896.00 L576.0,896.00 L577.5,896.00 L579.0,896.00 L580.5,896.00 L582.0,896.00 L583.5,896.00 L585.0,896.00 L586.5,896.00 L588.0,896.00 L589.5,896.00 L591.0,896.00 L592.5,896.00 L594.0,896.00 L595.5,896.00 L597.0,896.00 L598.5,896.00 L600.0,896.00 L601.5,896.00 L603.0,896.00 L604.5,896.00 L606.0,896.00 L607.5,896.00 L609.0,896.00 L610.5,896.00 L612.0,896.00 L613.5,896.00 L615.0,896.00 L616.5,896.00 L618.0,896.00 L619.5,896.00 L621.0,896.00 L622.5,896.00 L624.0,896.00 L625.5,896.00 L627.0,896.00 L628.5,896.00 L630.0,896.00 L631.5,896.00 L633.0,896.00 L634.5,896.00 L636.0,896.00 L637.5,896.00 L639.0,896.00 L640.5,896.00 L642.0,896.00 L643.5,896.00 L645.0,896.00 L646.5,896.00 L648.0,896.00 L649.5,896.00 L651.0,896.00 L652.5,896.00 L654.0,896.00 L655.5,896.00 L657.0,896.00 L658.5,896.00 L660.0,896.00 L661.5,896.00 L663.0,896.00 L664.5,896.00 L666.0,896.00 L667.5,896.00 L669.0,896.00 L670.5,896.00 L672.0,896.00 L673.5,896.00 L675.0,896.00 L676.5,896.00 L678.0,896.00 L679.5,896.00 L681.0,896.00 L682.5,896.00 L684.0,896.00 L685.5,896.00 L687.0,896.00 L688.5,896.00 L690.0,896.00 L691.5,896.00 L693.0,896.00 L694.5,896.00 L696.0,896.00 L697.5,896.00 L699.0,896.00 L700.5,896.00 L702.0,896.00 L703.5,896.00 L705.0,896.00 L706.5,896.00 L708.0,896.00 L709.5,896.00 L711.0,896.00 L712.5,896.00 L714.0,896.00 L715.5,896.00 L717.0,896.00 L718.5,896.00 L720.0,896.00 L721.5,896.00 L723.0,896.00 L724.5,896.00 L726.0,896.00 L727.5,896.00 L729.0,896.00 L730.5,896.00 L732.0,896.00 L733.5,896.00 L735.0,896.00 L736.5,896.00 L738.0,896.00 L739.5,895.99 L741.0,895.99 L742.5,895.99 L744.0,895.99 L745.5,895.99 L747.0,895.99 L748.5,895.99 L750.0,895.99 L751.5,895.99 L753.0,895.99 L754.5,895.98 L756.0,895.98 L757.5,895.98 L759.0,895.98 L760.5,895.97 L762.0,895.97 L763.5,895.97 L765.0,895.96 L766.5,895.96 L768.0,895.96 L769.5,895.95 L771.0,895.95 L772.5,895.94 L774.0,895.93 L775.5,895.93 L777.0,895.92 L778.5,895.91 L780.0,895.90 L781.5,895.89 L783.0,895.88 L784.5,895.86 L786.0,895.85 L787.5,895.83 L789.0,895.82 L790.5,895.80 L792.0,895.78 L793.5,895.76 L795.0,895.73 L796.5,895.71 L798.0,895.68 L799.5,895.65 L801.0,895.61 L802.5,895.58 L804.0,895.54 L805.5,895.49 L807.0,895.45 L808.5,895.39 L810.0,895.34 L811.5,895.28 L813.0,895.21 L814.5,895.14 L816.0,895.07 L817.5,894.98 L819.0,894.90 L820.5,894.80 L822.0,894.70 L823.5,894.59 L825.0,894.47 L826.5,894.34 L828.0,894.20 L829.5,894.05 L831.0,893.89 L832.5,893.72 L834.0,893.54 L835.5,893.34 L837.0,893.13 L838.5,892.91 L840.0,892.67 L841.5,892.42 L843.0,892.15 L844.5,891.86 L846.0,891.55 L847.5,891.22 L849.0,890.87 L850.5,890.50 L852.0,890.11 L853.5,889.69 L855.0,889.25 L856.5,888.78 L858.0,888.29 L859.5,887.76 L861.0,887.21 L862.5,886.63 L864.0,886.01 L865.5,885.36 L867.0,884.68 L868.5,883.96 L870.0,883.20 L871.5,882.40 L873.0,881.56 L874.5,880.69 L876.0,879.77 L877.5,878.80 L879.0,877.79 L880.5,876.74 L882.0,875.64 L883.5,874.49 L885.0,873.28 L886.5,872.03 L888.0,870.73 L889.5,869.37 L891.0,867.96 L892.5,866.49 L894.0,864.97 L895.5,863.39 L897.0,861.75 L898.5,860.06 L900.0,858.30 L901.5,856.49 L903.0,854.62 L904.5,852.68 L906.0,850.69 L907.5,848.64 L909.0,846.53 L910.5,844.35 L912.0,842.12 L913.5,839.83 L915.0,837.49 L916.5,835.08 L918.0,832.62 L919.5,830.10 L921.0,827.53 L922.5,824.90 L924.0,822.23 L925.5,819.50 L927.0,816.73 L928.5,813.91 L930.0,811.05 L931.5,808.15 L933.0,805.21 L934.5,802.23 L936.0,799.22 L937.5,796.18 L939.0,793.12 L940.5,790.03 L942.0,786.92 L943.5,783.79 L945.0,780.65 L946.5,777.51 L948.0,774.36 L949.5,771.21 L951.0,768.06 L952.5,764.92 L954.0,761.80 L955.5,758.69 L957.0,755.60 L958.5,752.54 L960.0,749.51 L961.5,746.52 L963.0,743.57 L964.5,740.66 L966.0,737.81 L967.5,735.01 L969.0,732.27 L970.5,729.59 L972.0,726.99 L973.5,724.45 L975.0,722.00 L976.5,719.63 L978.0,717.35 L979.5,715.15 L981.0,713.06 L982.5,711.06 L984.0,709.17 L985.5,707.38 L987.0,705.70 L988.5,704.14 L990.0,702.69 L991.5,701.37 L993.0,700.16 L994.5,699.08 L996.0,698.12 L997.5,697.30 L999.0,696.60 L1000.5,696.03 L1002.0,695.60 L1003.5,695.30 L1005.0,695.14 L1006.5,695.10 L1008.0,695.21 L1009.5,695.44 L1011.0,695.82 L1012.5,696.32 L1014.0,696.95 L1015.5,697.72 L1017.0,698.62 L1018.5,699.64 L1020.0,700.79 L1021.5,702.06 L1023.0,703.45 L1024.5,704.96 L1026.0,706.58 L1027.5,708.32 L1029.0,710.16 L1030.5,712.11 L1032.0,714.16 L1033.5,716.31 L1035.0,718.55 L1036.5,720.88 L1038.0,723.30 L1039.5,725.80 L1041.0,728.37 L1042.5,731.01 L1044.0,733.72 L1045.5,736.49 L1047.0,739.33 L1048.5,742.21 L1050.0,745.14 L1051.5,748.11 L1053.0,751.12 L1054.5,754.17 L1056.0,757.24 L1057.5,760.34 L1059.0,763.46 L1060.5,766.59 L1062.0,769.74 L1063.5,772.89 L1065.0,776.04 L1066.5,779.19 L1068.0,782.33 L1069.5,785.46 L1071.0,788.58 L1072.5,791.68 L1074.0,794.75 L1075.5,797.81 L1077.0,800.83 L1078.5,803.82 L1080.0,806.78 L1081.5,809.70 L1083.0,812.58 L1084.5,815.42 L1086.0,818.22 L1087.5,820.96 L1089.0,823.66 L1090.5,826.31 L1092.0,828.91 L1093.5,831.45 L1095.0,833.94 L1096.5,836.37 L1098.0,838.75 L1099.5,841.06 L1101.0,843.32 L1102.5,845.52 L1104.0,847.66 L1105.5,849.74 L1107.0,851.76 L1108.5,853.72 L1110.0,855.62 L1111.5,857.46 L1113.0,859.24 L1114.5,860.97 L1116.0,862.63 L1117.5,864.24 L1119.0,865.79 L1120.5,867.28 L1122.0,868.72 L1123.5,870.10 L1125.0,871.43 L1126.5,872.71 L1128.0,873.93 L1129.5,875.11 L1131.0,876.23 L1132.5,877.31 L1134.0,878.34 L1135.5,879.32 L1137.0,880.26 L1138.5,881.16 L1140.0,882.02 L1141.5,882.83 L1143.0,883.61 L1144.5,884.34 L1146.0,885.05 L1147.5,885.71 L1149.0,886.34 L1150.5,886.94 L1152.0,887.51 L1153.5,888.05 L1155.0,888.56 L1156.5,889.04 L1158.0,889.49 L1159.5,889.92 L1161.0,890.32 L1162.5,890.70 L1164.0,891.06 L1165.5,891.40 L1167.0,891.72 L1168.5,892.01 L1170.0,892.29 L1171.5,892.56 L1173.0,892.80 L1174.5,893.03 L1176.0,893.25 L1177.5,893.45 L1179.0,893.64 L1180.5,893.81 L1182.0,893.98 L1183.5,894.13 L1185.0,894.27 L1186.5,894.41 L1188.0,894.53 L1189.5,894.65 L1191.0,894.75 L1192.5,894.85 L1194.0,894.94 L1195.5,895.03 L1197.0,895.11 L1198.5,895.18 L1200.0,895.25 L1201.5,895.31 L1203.0,895.37 L1204.5,895.42 L1206.0,895.47 L1207.5,895.52 L1209.0,895.56 L1210.5,895.60 L1212.0,895.63 L1213.5,895.66 L1215.0,895.69 L1216.5,895.72 L1218.0,895.75 L1219.5,895.77 L1221.0,895.79 L1222.5,895.81 L1224.0,895.83 L1225.5,895.84 L1227.0,895.86 L1228.5,895.87 L1230.0,895.88 L1231.5,895.89 L1233.0,895.90 L1234.5,895.91 L1236.0,895.92 L1237.5,895.93 L1239.0,895.94 L1240.5,895.94 L1242.0,895.95 L1243.5,895.95 L1245.0,895.96 L1246.5,895.96 L1248.0,895.97 L1249.5,895.97 L1251.0,895.97 L1252.5,895.98 L1254.0,895.98 L1255.5,895.98 L1257.0,895.98 L1258.5,895.98 L1260.0,895.99 L1261.5,895.99 L1263.0,895.99 L1264.5,895.99 L1266.0,895.99 L1267.5,895.99 L1269.0,895.99 L1270.5,895.99 L1272.0,895.99 L1273.5,896.00 L1275.0,896.00 L1276.5,896.00 L1278.0,896.00 L1279.5,896.00 L1281.0,896.00 L1282.5,896.00 L1284.0,896.00 L1285.5,896.00 L1287.0,896.00 L1288.5,896.00 L1290.0,896.00 L1291.5,896.00 L1293.0,896.00 L1294.5,896.00 L1296.0,896.00 L1297.5,896.00 L1299.0,896.00 L1300.5,896.00 L1302.0,896.00 L1303.5,896.00 L1305.0,896.00 L1306.5,896.00 L1308.0,896.00 L1309.5,896.00 L1311.0,896.00 L1312.5,896.00 L1314.0,896.00 L1315.5,896.00 L1317.0,896.00 L1318.5,896.00 L1320.0,896.00 L1321.5,896.00 L1323.0,896.00 L1324.5,896.00 L1326.0,896.00 L1327.5,896.00 L1329.0,896.00 L1330.5,896.00 L1332.0,896.00 L1333.5,896.00 L1335.0,896.00 L1336.5,896.00 L1338.0,896.00 L1339.5,896.00 L1341.0,896.00 L1342.5,896.00 L1344.0,896.00 L1345.5,896.00 L1347.0,896.00 L1348.5,896.00 L1350.0,896.00 L1351.5,896.00 L1353.0,896.00 L1354.5,896.00 L1356.0,896.00 L1357.5,896.00 L1359.0,896.00 L1360.5,896.00 L1362.0,896.00 L1363.5,896.00 L1365.0,896.00 L1366.5,896.00 L1368.0,896.00 L1369.5,896.00 L1371.0,896.00 L1372.5,896.00 L1374.0,896.00 L1375.5,896.00 L1377.0,896.00 L1378.5,896.00 L1380.0,896.00 L1381.5,896.00 L1383.0,896.00 L1384.5,896.00 L1386.0,896.00 L1387.5,896.00 L1389.0,896.00 L1390.5,896.00 L1392.0,896.00 L1393.5,896.00 L1395.0,896.00 L1396.5,896.00 L1398.0,896.00 L1399.5,896.00 L1401.0,896.00 L1402.5,896.00 L1404.0,896.00 L1405.5,896.00 L1407.0,896.00 L1408.5,896.00 L1410.0,896.00 L1411.5,896.00 L1413.0,896.00 L1414.5,896.00 L1416.0,896.00 L1417.5,896.00 L1419.0,896.00 L1420.5,896.00 L1422.0,896.00 L1423.5,896.00 L1425.0,896.00 L1426.5,896.00 L1428.0,896.00 L1429.5,896.00 L1431.0,896.00 L1432.5,896.00 L1434.0,896.00 L1435.5,896.00 L1437.0,896.00 L1438.5,896.00 L1440.0,896.00 L1441.5,896.00 L1443.0,896.00 L1444.5,896.00 L1446.0,896.00 L1447.5,896.00 L1449.0,896.00 L1450.5,896.00 L1452.0,896.00 L1453.5,896.00 L1455.0,896.00 L1456.5,896.00 L1458.0,896.00 L1459.5,896.00 L1461.0,896.00 L1462.5,896.00 L1464.0,896.00 L1465.5,896.00 L1467.0,896.00 L1468.5,896.00 L1470.0,896.00 L1471.5,896.00 L1473.0,896.00 L1474.5,896.00 L1476.0,896.00 L1477.5,896.00 L1479.0,896.00 L1480.5,896.00 L1482.0,896.00 L1483.5,896.00 L1485.0,896.00 L1486.5,896.00 L1488.0,896.00 L1489.5,896.00 L1491.0,896.00 L1492.5,896.00" fill="none" stroke="#86BFE2" stroke-width="1.9" stroke-linejoin="round"/><path d="M294.0,896.00 L295.5,896.00 L297.0,896.00 L298.5,896.00 L300.0,896.00 L301.5,896.00 L303.0,896.00 L304.5,896.00 L306.0,896.00 L307.5,896.00 L309.0,896.00 L310.5,896.00 L312.0,896.00 L313.5,896.00 L315.0,896.00 L316.5,896.00 L318.0,896.00 L319.5,896.00 L321.0,896.00 L322.5,896.00 L324.0,896.00 L325.5,896.00 L327.0,896.00 L328.5,896.00 L330.0,896.00 L331.5,896.00 L333.0,896.00 L334.5,896.00 L336.0,896.00 L337.5,896.00 L339.0,896.00 L340.5,896.00 L342.0,896.00 L343.5,896.00 L345.0,896.00 L346.5,896.00 L348.0,896.00 L349.5,896.00 L351.0,896.00 L352.5,896.00 L354.0,896.00 L355.5,896.00 L357.0,896.00 L358.5,896.00 L360.0,896.00 L361.5,896.00 L363.0,896.00 L364.5,896.00 L366.0,896.00 L367.5,896.00 L369.0,896.00 L370.5,896.00 L372.0,896.00 L373.5,896.00 L375.0,896.00 L376.5,896.00 L378.0,896.00 L379.5,896.00 L381.0,896.00 L382.5,896.00 L384.0,896.00 L385.5,896.00 L387.0,896.00 L388.5,896.00 L390.0,896.00 L391.5,896.00 L393.0,896.00 L394.5,896.00 L396.0,896.00 L397.5,896.00 L399.0,896.00 L400.5,896.00 L402.0,896.00 L403.5,896.00 L405.0,896.00 L406.5,896.00 L408.0,896.00 L409.5,896.00 L411.0,896.00 L412.5,896.00 L414.0,896.00 L415.5,896.00 L417.0,896.00 L418.5,896.00 L420.0,896.00 L421.5,896.00 L423.0,896.00 L424.5,896.00 L426.0,896.00 L427.5,896.00 L429.0,896.00 L430.5,896.00 L432.0,896.00 L433.5,896.00 L435.0,896.00 L436.5,896.00 L438.0,896.00 L439.5,896.00 L441.0,896.00 L442.5,896.00 L444.0,896.00 L445.5,896.00 L447.0,896.00 L448.5,896.00 L450.0,896.00 L451.5,896.00 L453.0,896.00 L454.5,896.00 L456.0,896.00 L457.5,896.00 L459.0,896.00 L460.5,896.00 L462.0,896.00 L463.5,896.00 L465.0,896.00 L466.5,896.00 L468.0,896.00 L469.5,896.00 L471.0,896.00 L472.5,896.00 L474.0,896.00 L475.5,896.00 L477.0,896.00 L478.5,896.00 L480.0,896.00 L481.5,896.00 L483.0,896.00 L484.5,896.00 L486.0,896.00 L487.5,896.00 L489.0,896.00 L490.5,896.00 L492.0,896.00 L493.5,896.00 L495.0,896.00 L496.5,896.00 L498.0,896.00 L499.5,896.00 L501.0,896.00 L502.5,896.00 L504.0,896.00 L505.5,896.00 L507.0,896.00 L508.5,896.00 L510.0,896.00 L511.5,896.00 L513.0,896.00 L514.5,896.00 L516.0,896.00 L517.5,896.00 L519.0,896.00 L520.5,896.00 L522.0,896.00 L523.5,896.00 L525.0,896.00 L526.5,896.00 L528.0,896.00 L529.5,896.00 L531.0,896.00 L532.5,896.00 L534.0,896.00 L535.5,896.00 L537.0,896.00 L538.5,896.00 L540.0,896.00 L541.5,896.00 L543.0,896.00 L544.5,896.00 L546.0,896.00 L547.5,896.00 L549.0,896.00 L550.5,896.00 L552.0,896.00 L553.5,896.00 L555.0,896.00 L556.5,896.00 L558.0,896.00 L559.5,896.00 L561.0,896.00 L562.5,896.00 L564.0,896.00 L565.5,896.00 L567.0,896.00 L568.5,896.00 L570.0,896.00 L571.5,896.00 L573.0,896.00 L574.5,896.00 L576.0,896.00 L577.5,896.00 L579.0,896.00 L580.5,896.00 L582.0,896.00 L583.5,896.00 L585.0,896.00 L586.5,896.00 L588.0,896.00 L589.5,896.00 L591.0,896.00 L592.5,896.00 L594.0,896.00 L595.5,896.00 L597.0,896.00 L598.5,896.00 L600.0,896.00 L601.5,896.00 L603.0,896.00 L604.5,896.00 L606.0,896.00 L607.5,896.00 L609.0,896.00 L610.5,896.00 L612.0,896.00 L613.5,896.00 L615.0,896.00 L616.5,896.00 L618.0,896.00 L619.5,896.00 L621.0,896.00 L622.5,896.00 L624.0,896.00 L625.5,896.00 L627.0,896.00 L628.5,896.00 L630.0,896.00 L631.5,896.00 L633.0,896.00 L634.5,896.00 L636.0,896.00 L637.5,896.00 L639.0,896.00 L640.5,896.00 L642.0,896.00 L643.5,896.00 L645.0,896.00 L646.5,896.00 L648.0,896.00 L649.5,896.00 L651.0,896.00 L652.5,896.00 L654.0,896.00 L655.5,896.00 L657.0,896.00 L658.5,896.00 L660.0,896.00 L661.5,896.00 L663.0,896.00 L664.5,896.00 L666.0,896.00 L667.5,896.00 L669.0,896.00 L670.5,896.00 L672.0,896.00 L673.5,896.00 L675.0,896.00 L676.5,896.00 L678.0,896.00 L679.5,896.00 L681.0,896.00 L682.5,896.00 L684.0,896.00 L685.5,896.00 L687.0,896.00 L688.5,896.00 L690.0,896.00 L691.5,896.00 L693.0,896.00 L694.5,896.00 L696.0,896.00 L697.5,896.00 L699.0,896.00 L700.5,896.00 L702.0,896.00 L703.5,896.00 L705.0,896.00 L706.5,896.00 L708.0,896.00 L709.5,896.00 L711.0,896.00 L712.5,896.00 L714.0,896.00 L715.5,896.00 L717.0,896.00 L718.5,896.00 L720.0,896.00 L721.5,896.00 L723.0,896.00 L724.5,896.00 L726.0,896.00 L727.5,896.00 L729.0,896.00 L730.5,896.00 L732.0,896.00 L733.5,896.00 L735.0,896.00 L736.5,896.00 L738.0,896.00 L739.5,896.00 L741.0,896.00 L742.5,896.00 L744.0,896.00 L745.5,896.00 L747.0,896.00 L748.5,896.00 L750.0,896.00 L751.5,896.00 L753.0,896.00 L754.5,896.00 L756.0,896.00 L757.5,896.00 L759.0,896.00 L760.5,896.00 L762.0,896.00 L763.5,896.00 L765.0,896.00 L766.5,896.00 L768.0,896.00 L769.5,896.00 L771.0,896.00 L772.5,896.00 L774.0,896.00 L775.5,896.00 L777.0,896.00 L778.5,896.00 L780.0,896.00 L781.5,896.00 L783.0,896.00 L784.5,896.00 L786.0,896.00 L787.5,896.00 L789.0,896.00 L790.5,896.00 L792.0,896.00 L793.5,896.00 L795.0,896.00 L796.5,896.00 L798.0,896.00 L799.5,896.00 L801.0,896.00 L802.5,896.00 L804.0,896.00 L805.5,896.00 L807.0,896.00 L808.5,896.00 L810.0,896.00 L811.5,896.00 L813.0,896.00 L814.5,896.00 L816.0,895.99 L817.5,895.99 L819.0,895.99 L820.5,895.99 L822.0,895.99 L823.5,895.99 L825.0,895.99 L826.5,895.99 L828.0,895.99 L829.5,895.99 L831.0,895.99 L832.5,895.98 L834.0,895.98 L835.5,895.98 L837.0,895.98 L838.5,895.98 L840.0,895.97 L841.5,895.97 L843.0,895.97 L844.5,895.97 L846.0,895.96 L847.5,895.96 L849.0,895.95 L850.5,895.95 L852.0,895.95 L853.5,895.94 L855.0,895.93 L856.5,895.93 L858.0,895.92 L859.5,895.91 L861.0,895.91 L862.5,895.90 L864.0,895.89 L865.5,895.88 L867.0,895.87 L868.5,895.85 L870.0,895.84 L871.5,895.83 L873.0,895.81 L874.5,895.80 L876.0,895.78 L877.5,895.76 L879.0,895.74 L880.5,895.72 L882.0,895.69 L883.5,895.66 L885.0,895.64 L886.5,895.61 L888.0,895.57 L889.5,895.54 L891.0,895.50 L892.5,895.46 L894.0,895.41 L895.5,895.37 L897.0,895.31 L898.5,895.26 L900.0,895.20 L901.5,895.14 L903.0,895.07 L904.5,894.99 L906.0,894.91 L907.5,894.83 L909.0,894.74 L910.5,894.64 L912.0,894.54 L913.5,894.43 L915.0,894.31 L916.5,894.18 L918.0,894.05 L919.5,893.90 L921.0,893.75 L922.5,893.58 L924.0,893.41 L925.5,893.22 L927.0,893.02 L928.5,892.81 L930.0,892.58 L931.5,892.34 L933.0,892.09 L934.5,891.82 L936.0,891.53 L937.5,891.22 L939.0,890.90 L940.5,890.55 L942.0,890.19 L943.5,889.80 L945.0,889.39 L946.5,888.95 L948.0,888.49 L949.5,888.01 L951.0,887.49 L952.5,886.95 L954.0,886.37 L955.5,885.77 L957.0,885.13 L958.5,884.45 L960.0,883.74 L961.5,882.99 L963.0,882.20 L964.5,881.37 L966.0,880.49 L967.5,879.57 L969.0,878.61 L970.5,877.59 L972.0,876.52 L973.5,875.40 L975.0,874.22 L976.5,872.99 L978.0,871.70 L979.5,870.34 L981.0,868.93 L982.5,867.44 L984.0,865.89 L985.5,864.27 L987.0,862.57 L988.5,860.80 L990.0,858.95 L991.5,857.02 L993.0,855.01 L994.5,852.91 L996.0,850.72 L997.5,848.45 L999.0,846.08 L1000.5,843.61 L1002.0,841.05 L1003.5,838.39 L1005.0,835.62 L1006.5,832.75 L1008.0,829.77 L1009.5,826.68 L1011.0,823.47 L1012.5,820.16 L1014.0,816.72 L1015.5,813.16 L1017.0,809.48 L1018.5,805.68 L1020.0,801.75 L1021.5,797.69 L1023.0,793.50 L1024.5,789.17 L1026.0,784.72 L1027.5,780.12 L1029.0,775.39 L1030.5,770.52 L1032.0,765.51 L1033.5,760.36 L1035.0,755.06 L1036.5,749.63 L1038.0,744.04 L1039.5,738.32 L1041.0,732.44 L1042.5,726.42 L1044.0,720.26 L1045.5,713.95 L1047.0,707.49 L1048.5,700.89 L1050.0,694.14 L1051.5,687.25 L1053.0,680.22 L1054.5,673.05 L1056.0,665.74 L1057.5,658.29 L1059.0,650.70 L1060.5,642.99 L1062.0,635.14 L1063.5,627.16 L1065.0,619.06 L1066.5,610.84 L1068.0,602.50 L1069.5,594.05 L1071.0,585.49 L1072.5,576.82 L1074.0,568.05 L1075.5,559.18 L1077.0,550.23 L1078.5,541.19 L1080.0,532.07 L1081.5,522.87 L1083.0,513.61 L1084.5,504.28 L1086.0,494.91 L1087.5,485.48 L1089.0,476.01 L1090.5,466.51 L1092.0,456.99 L1093.5,447.44 L1095.0,437.89 L1096.5,428.33 L1098.0,418.78 L1099.5,409.25 L1101.0,399.73 L1102.5,390.25 L1104.0,380.81 L1105.5,371.42 L1107.0,362.09 L1108.5,352.82 L1110.0,343.64 L1111.5,334.53 L1113.0,325.53 L1114.5,316.63 L1116.0,307.84 L1117.5,299.18 L1119.0,290.65 L1120.5,282.26 L1122.0,274.03 L1123.5,265.96 L1125.0,258.05 L1126.5,250.32 L1128.0,242.79 L1129.5,235.44 L1131.0,228.31 L1132.5,221.38 L1134.0,214.68 L1135.5,208.21 L1137.0,201.97 L1138.5,195.98 L1140.0,190.25 L1141.5,184.77 L1143.0,179.55 L1144.5,174.61 L1146.0,169.95 L1147.5,165.57 L1149.0,161.48 L1150.5,157.69 L1152.0,154.20 L1153.5,151.01 L1155.0,148.13 L1156.5,145.56 L1158.0,143.30 L1159.5,141.37 L1161.0,139.75 L1162.5,138.46 L1164.0,137.49 L1165.5,136.85 L1167.0,136.54 L1168.5,136.55 L1170.0,136.88 L1171.5,137.55 L1173.0,138.54 L1174.5,139.85 L1176.0,141.49 L1177.5,143.45 L1179.0,145.72 L1180.5,148.31 L1182.0,151.21 L1183.5,154.42 L1185.0,157.93 L1186.5,161.75 L1188.0,165.85 L1189.5,170.25 L1191.0,174.93 L1192.5,179.89 L1194.0,185.12 L1195.5,190.62 L1197.0,196.38 L1198.5,202.38 L1200.0,208.63 L1201.5,215.12 L1203.0,221.84 L1204.5,228.78 L1206.0,235.93 L1207.5,243.28 L1209.0,250.83 L1210.5,258.57 L1212.0,266.49 L1213.5,274.57 L1215.0,282.82 L1216.5,291.22 L1218.0,299.75 L1219.5,308.43 L1221.0,317.22 L1222.5,326.13 L1224.0,335.14 L1225.5,344.25 L1227.0,353.44 L1228.5,362.71 L1230.0,372.04 L1231.5,381.44 L1233.0,390.88 L1234.5,400.37 L1236.0,409.88 L1237.5,419.42 L1239.0,428.97 L1240.5,438.53 L1242.0,448.08 L1243.5,457.62 L1245.0,467.15 L1246.5,476.65 L1248.0,486.11 L1249.5,495.53 L1251.0,504.91 L1252.5,514.23 L1254.0,523.49 L1255.5,532.68 L1257.0,541.79 L1258.5,550.83 L1260.0,559.78 L1261.5,568.64 L1263.0,577.40 L1264.5,586.06 L1266.0,594.62 L1267.5,603.06 L1269.0,611.39 L1270.5,619.61 L1272.0,627.70 L1273.5,635.67 L1275.0,643.50 L1276.5,651.21 L1278.0,658.79 L1279.5,666.23 L1281.0,673.53 L1282.5,680.69 L1284.0,687.72 L1285.5,694.60 L1287.0,701.33 L1288.5,707.92 L1290.0,714.37 L1291.5,720.67 L1293.0,726.83 L1294.5,732.84 L1296.0,738.70 L1297.5,744.42 L1299.0,749.99 L1300.5,755.42 L1302.0,760.71 L1303.5,765.85 L1305.0,770.85 L1306.5,775.71 L1308.0,780.43 L1309.5,785.02 L1311.0,789.47 L1312.5,793.78 L1314.0,797.96 L1315.5,802.01 L1317.0,805.93 L1318.5,809.73 L1320.0,813.40 L1321.5,816.95 L1323.0,820.38 L1324.5,823.69 L1326.0,826.89 L1327.5,829.97 L1329.0,832.94 L1330.5,835.81 L1332.0,838.57 L1333.5,841.23 L1335.0,843.78 L1336.5,846.24 L1338.0,848.60 L1339.5,850.87 L1341.0,853.05 L1342.5,855.15 L1344.0,857.15 L1345.5,859.08 L1347.0,860.92 L1348.5,862.69 L1350.0,864.38 L1351.5,866.00 L1353.0,867.54 L1354.5,869.02 L1356.0,870.44 L1357.5,871.79 L1359.0,873.08 L1360.5,874.30 L1362.0,875.48 L1363.5,876.59 L1365.0,877.66 L1366.5,878.67 L1368.0,879.64 L1369.5,880.55 L1371.0,881.43 L1372.5,882.25 L1374.0,883.04 L1375.5,883.79 L1377.0,884.50 L1378.5,885.17 L1380.0,885.81 L1381.5,886.41 L1383.0,886.99 L1384.5,887.53 L1386.0,888.04 L1387.5,888.53 L1389.0,888.98 L1390.5,889.42 L1392.0,889.83 L1393.5,890.21 L1395.0,890.58 L1396.5,890.92 L1398.0,891.24 L1399.5,891.55 L1401.0,891.84 L1402.5,892.11 L1404.0,892.36 L1405.5,892.60 L1407.0,892.83 L1408.5,893.04 L1410.0,893.24 L1411.5,893.42 L1413.0,893.60 L1414.5,893.76 L1416.0,893.91 L1417.5,894.06 L1419.0,894.19 L1420.5,894.32 L1422.0,894.44 L1423.5,894.55 L1425.0,894.65 L1426.5,894.75 L1428.0,894.84 L1429.5,894.92 L1431.0,895.00 L1432.5,895.07 L1434.0,895.14 L1435.5,895.20 L1437.0,895.26 L1438.5,895.32 L1440.0,895.37 L1441.5,895.42 L1443.0,895.46 L1444.5,895.50 L1446.0,895.54 L1447.5,895.58 L1449.0,895.61 L1450.5,895.64 L1452.0,895.67 L1453.5,895.69 L1455.0,895.72 L1456.5,895.74 L1458.0,895.76 L1459.5,895.78 L1461.0,895.80 L1462.5,895.81 L1464.0,895.83 L1465.5,895.84 L1467.0,895.86 L1468.5,895.87 L1470.0,895.88 L1471.5,895.89 L1473.0,895.90 L1474.5,895.91 L1476.0,895.91 L1477.5,895.92 L1479.0,895.93 L1480.5,895.93 L1482.0,895.94 L1483.5,895.95 L1485.0,895.95 L1486.5,895.95 L1488.0,895.96 L1489.5,895.96 L1491.0,895.97 L1492.5,895.97" fill="none" stroke="#86BFE2" stroke-width="1.9" stroke-linejoin="round"/><rect x="219.6" y="43.0" width="1347.8000000000002" height="887.0" fill="none" stroke="#000" stroke-width="4.6"/><path d="M196.0,895.80 H219.6 M207.0,810.48 H219.6 M196.0,725.16 H219.6 M207.0,639.84 H219.6 M196.0,554.52 H219.6 M207.0,469.20 H219.6 M196.0,383.88 H219.6 M207.0,298.56 H219.6 M196.0,213.24 H219.6 M207.0,127.92 H219.6 M196.0,43.00 H219.6 M294.00,930.0 V953.4 M443.88,930.0 V941.6 M593.75,930.0 V953.4 M743.62,930.0 V941.6 M893.50,930.0 V953.4 M1043.38,930.0 V941.6 M1193.25,930.0 V953.4 M1343.12,930.0 V941.6 M1493.00,930.0 V953.4" stroke="#000" stroke-width="4.0" fill="none" stroke-linecap="round"/><g font-family="'Liberation Serif', 'Times New Roman', serif" font-size="46" fill="#000" text-anchor="end"><text x="179" y="909.8">0</text><text x="179" y="739.2">500</text><text x="179" y="568.5">1000</text><text x="179" y="397.9">1500</text><text x="179" y="227.2">2000</text><text x="179" y="56.6">2500</text></g><g font-family="'Liberation Serif', 'Times New Roman', serif" font-size="46" fill="#000" text-anchor="middle"><text x="294.0" y="1006">1000</text><text x="593.8" y="1006">1200</text><text x="893.5" y="1006">1400</text><text x="1193.2" y="1006">1600</text><text x="1493.0" y="1006">1800</text></g><text font-family="'Liberation Serif', 'Times New Roman', serif" font-size="57.2" x="679.3" y="1081.7">Raman shift / cm<tspan x="1074.5" y="1054.1" font-size="51.6">&#8722;</tspan><tspan x="1104.8" y="1050.2" font-size="34.8">1</tspan></text><text font-family="'Liberation Serif', 'Times New Roman', serif" font-size="58" transform="translate(60.7,581.5) rotate(-90)">Intensity / a.u.</text><circle cx="239.3" cy="83.3" r="7.1" fill="#525252"/><circle cx="265.9" cy="83.3" r="7.1" fill="#525252"/><circle cx="292.5" cy="83.3" r="7.1" fill="#525252"/><circle cx="319.1" cy="83.3" r="7.1" fill="#525252"/><line x1="239.5" y1="134.5" x2="331.7" y2="134.5" stroke="#F88484" stroke-width="5.5" stroke-linecap="round"/><line x1="239" y1="186.3" x2="333" y2="186.3" stroke="#86BFE2" stroke-width="1.9"/><g font-family="'Liberation Serif', 'Times New Roman', serif" font-size="41.6" fill="#000"><text x="342.6" y="96.5">Experimental curve</text><text x="342.6" y="148.5">Fitting curve</text><text x="342.6" y="200.4">Sub-peak</text><text x="1557" y="87.6" text-anchor="end">Confidence Coefficient = 0.998</text><text x="1557" y="150.9" text-anchor="end">Sample 9</text><text x="845" y="509.1" text-anchor="middle">D</text><text x="1166" y="267.8" text-anchor="middle">G</text></g></svg>
</body></html>
